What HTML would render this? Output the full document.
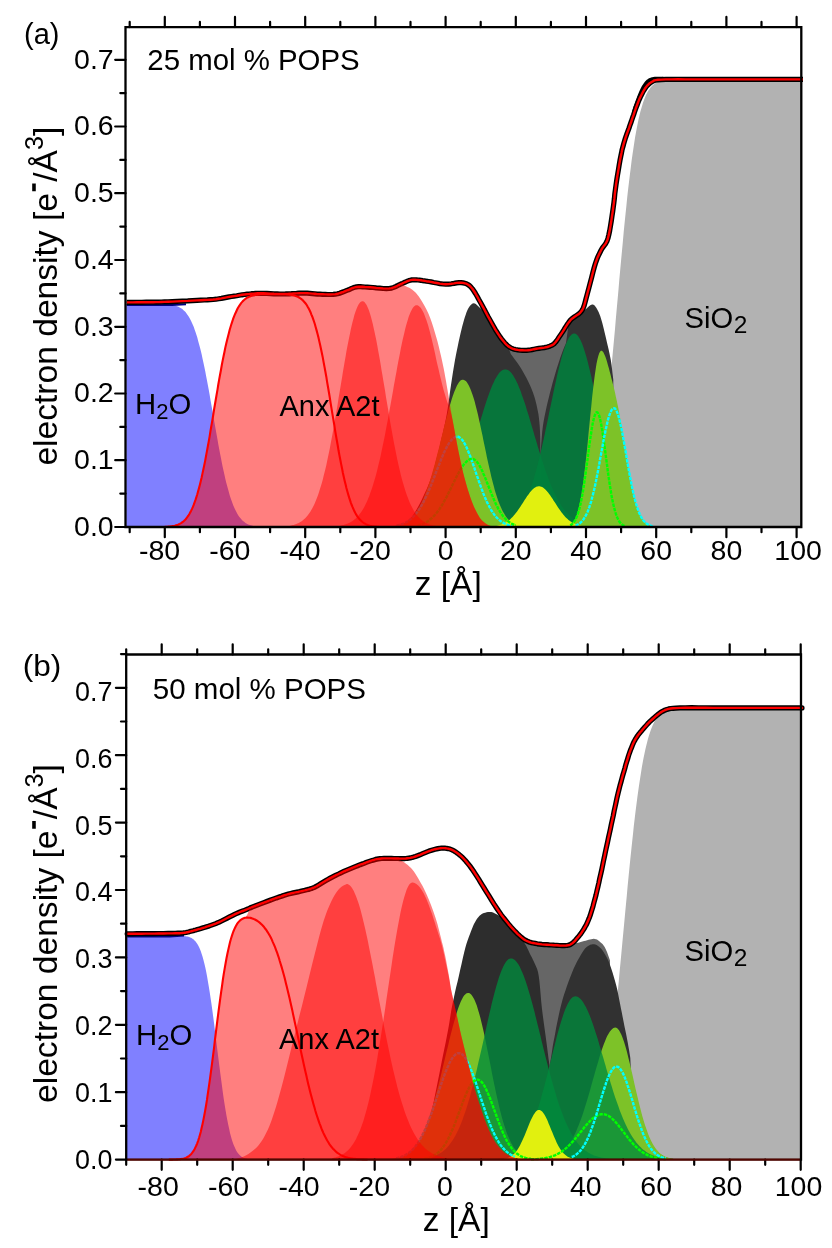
<!DOCTYPE html>
<html><head><meta charset="utf-8"><title>electron density</title>
<style>html,body{margin:0;padding:0;background:#fff}svg{display:block;will-change:transform}</style></head>
<body>
<svg width="832" height="1248" viewBox="0 0 832 1248">
<rect width="832" height="1248" fill="#fff"/>
<path d="M550.9 527.0 L550.9 527.0 L551.8 527.0 L552.7 527.0 L553.5 527.0 L554.4 527.0 L555.3 527.0 L556.2 527.0 L557.0 527.0 L557.9 527.0 L558.8 527.0 L559.7 526.9 L560.6 526.9 L561.4 526.9 L562.3 526.9 L563.2 526.9 L564.1 526.8 L564.9 526.8 L565.8 526.7 L566.7 526.7 L567.6 526.6 L568.5 526.6 L569.3 526.5 L570.2 526.4 L571.1 526.2 L572.0 526.1 L572.8 525.9 L573.7 525.7 L574.6 525.4 L575.5 525.2 L576.3 524.8 L577.2 524.5 L578.1 524.0 L579.0 523.6 L579.9 523.0 L580.7 522.3 L581.6 521.6 L582.5 520.8 L583.4 519.8 L584.2 518.8 L585.1 517.6 L586.0 516.3 L586.9 514.8 L587.8 513.1 L588.6 511.3 L589.5 509.3 L590.4 507.1 L591.3 504.6 L592.1 501.9 L593.0 499.0 L593.9 495.8 L594.8 492.3 L595.7 488.6 L596.5 484.6 L597.4 480.2 L598.3 475.5 L599.2 470.6 L600.0 465.2 L600.9 459.6 L601.8 453.6 L602.7 447.3 L603.5 440.7 L604.4 433.7 L605.3 426.4 L606.2 418.8 L607.1 410.9 L607.9 402.7 L608.8 394.2 L609.7 385.5 L610.6 376.5 L611.4 367.4 L612.3 358.0 L613.2 348.5 L614.1 338.8 L615.0 329.1 L615.8 319.2 L616.7 309.3 L617.6 299.4 L618.5 289.5 L619.3 279.7 L620.2 269.9 L621.1 260.2 L622.0 250.7 L622.9 241.3 L623.7 232.1 L624.6 223.1 L625.5 214.3 L626.4 205.8 L627.2 197.5 L628.1 189.5 L629.0 181.9 L629.9 174.5 L630.8 167.5 L631.6 160.8 L632.5 154.4 L633.4 148.4 L634.3 142.6 L635.1 137.3 L636.0 132.2 L636.9 127.5 L637.8 123.1 L638.6 119.0 L639.5 115.2 L640.4 111.6 L641.3 108.4 L642.2 105.4 L643.0 102.7 L643.9 100.2 L644.8 97.9 L645.7 95.8 L646.5 94.0 L647.4 92.3 L648.3 90.8 L649.2 89.4 L650.1 88.2 L650.9 87.1 L651.8 86.2 L652.7 85.3 L653.6 84.6 L654.4 83.9 L655.3 83.3 L656.2 82.8 L657.1 82.4 L658.0 82.0 L658.8 81.7 L659.7 81.4 L660.6 81.1 L661.5 80.9 L662.3 80.7 L663.2 80.6 L664.1 80.4 L665.0 80.3 L665.9 80.2 L666.7 80.2 L667.6 80.1 L668.5 80.0 L669.4 80.0 L670.2 80.0 L671.1 79.9 L672.0 79.9 L672.9 79.9 L673.8 79.9 L674.6 79.8 L675.5 79.8 L676.4 79.8 L677.3 79.8 L678.1 79.8 L679.0 79.8 L679.9 79.8 L680.8 79.8 L681.6 79.8 L682.5 79.8 L683.4 79.8 L684.3 79.8 L685.2 79.8 L686.0 79.8 L686.9 79.8 L687.8 79.8 L688.7 79.8 L689.5 79.8 L690.4 79.8 L691.3 79.8 L692.2 79.8 L693.1 79.8 L693.9 79.8 L694.8 79.8 L695.7 79.8 L696.6 79.8 L697.4 79.8 L698.3 79.8 L699.2 79.8 L700.1 79.8 L701.0 79.8 L701.8 79.8 L702.7 79.8 L703.6 79.8 L704.5 79.8 L705.3 79.8 L706.2 79.8 L707.1 79.8 L708.0 79.8 L708.9 79.8 L709.7 79.8 L710.6 79.8 L711.5 79.8 L712.4 79.8 L713.2 79.8 L714.1 79.8 L715.0 79.8 L715.9 79.8 L716.7 79.8 L717.6 79.8 L718.5 79.8 L719.4 79.8 L720.3 79.8 L721.1 79.8 L722.0 79.8 L722.9 79.8 L723.8 79.8 L724.6 79.8 L725.5 79.8 L726.4 79.8 L727.3 79.8 L728.2 79.8 L729.0 79.8 L729.9 79.8 L730.8 79.8 L731.7 79.8 L732.5 79.8 L733.4 79.8 L734.3 79.8 L735.2 79.8 L736.1 79.8 L736.9 79.8 L737.8 79.8 L738.7 79.8 L739.6 79.8 L740.4 79.8 L741.3 79.8 L742.2 79.8 L743.1 79.8 L744.0 79.8 L744.8 79.8 L745.7 79.8 L746.6 79.8 L747.5 79.8 L748.3 79.8 L749.2 79.8 L750.1 79.8 L751.0 79.8 L751.8 79.8 L752.7 79.8 L753.6 79.8 L754.5 79.8 L755.4 79.8 L756.2 79.8 L757.1 79.8 L758.0 79.8 L758.9 79.8 L759.7 79.8 L760.6 79.8 L761.5 79.8 L762.4 79.8 L763.3 79.8 L764.1 79.8 L765.0 79.8 L765.9 79.8 L766.8 79.8 L767.6 79.8 L768.5 79.8 L769.4 79.8 L770.3 79.8 L771.2 79.8 L772.0 79.8 L772.9 79.8 L773.8 79.8 L774.7 79.8 L775.5 79.8 L776.4 79.8 L777.3 79.8 L778.2 79.8 L779.0 79.8 L779.9 79.8 L780.8 79.8 L781.7 79.8 L782.6 79.8 L783.4 79.8 L784.3 79.8 L785.2 79.8 L786.1 79.8 L786.9 79.8 L787.8 79.8 L788.7 79.8 L789.6 79.8 L790.5 79.8 L791.3 79.8 L792.2 79.8 L793.1 79.8 L794.0 79.8 L794.8 79.8 L795.7 79.8 L796.6 79.8 L797.5 79.8 L798.4 79.8 L799.2 79.8 L800.1 79.8 L801.0 79.8 L801.0 527.0Z" fill="#b2b2b2" />
<path d="M126.2 527.0 L126.2 304.1 L127.1 304.1 L127.9 304.1 L128.8 304.1 L129.7 304.1 L130.6 304.1 L131.5 304.1 L132.3 304.1 L133.2 304.1 L134.1 304.1 L135.0 304.1 L135.8 304.1 L136.7 304.1 L137.6 304.1 L138.5 304.1 L139.4 304.1 L140.2 304.1 L141.1 304.1 L142.0 304.1 L142.9 304.1 L143.7 304.1 L144.6 304.1 L145.5 304.1 L146.4 304.1 L147.3 304.1 L148.1 304.1 L149.0 304.1 L149.9 304.1 L150.8 304.1 L151.6 304.1 L152.5 304.1 L153.4 304.1 L154.3 304.1 L155.1 304.1 L156.0 304.1 L156.9 304.1 L157.8 304.1 L158.7 304.1 L159.5 304.1 L160.4 304.1 L161.3 304.1 L162.2 304.2 L163.0 304.2 L163.9 304.2 L164.8 304.2 L165.7 304.3 L166.6 304.3 L167.4 304.4 L168.3 304.5 L169.2 304.5 L170.1 304.6 L170.9 304.7 L171.8 304.9 L172.7 305.0 L173.6 305.2 L174.5 305.4 L175.3 305.6 L176.2 305.9 L177.1 306.2 L178.0 306.5 L178.8 306.9 L179.7 307.4 L180.6 307.9 L181.5 308.5 L182.4 309.1 L183.2 309.9 L184.1 310.7 L185.0 311.6 L185.9 312.6 L186.7 313.7 L187.6 314.9 L188.5 316.2 L189.4 317.7 L190.2 319.3 L191.1 321.0 L192.0 322.9 L192.9 324.9 L193.8 327.1 L194.6 329.5 L195.5 332.0 L196.4 334.7 L197.3 337.6 L198.1 340.7 L199.0 343.9 L199.9 347.3 L200.8 350.8 L201.7 354.6 L202.5 358.5 L203.4 362.5 L204.3 366.7 L205.2 371.1 L206.0 375.5 L206.9 380.1 L207.8 384.8 L208.7 389.6 L209.6 394.5 L210.4 399.4 L211.3 404.4 L212.2 409.5 L213.1 414.5 L213.9 419.6 L214.8 424.6 L215.7 429.6 L216.6 434.6 L217.5 439.5 L218.3 444.3 L219.2 449.1 L220.1 453.7 L221.0 458.2 L221.8 462.6 L222.7 466.9 L223.6 471.0 L224.5 474.9 L225.3 478.7 L226.2 482.4 L227.1 485.8 L228.0 489.1 L228.9 492.2 L229.7 495.2 L230.6 498.0 L231.5 500.6 L232.4 503.0 L233.2 505.2 L234.1 507.3 L235.0 509.3 L235.9 511.1 L236.8 512.8 L237.6 514.3 L238.5 515.7 L239.4 516.9 L240.3 518.1 L241.1 519.1 L242.0 520.0 L242.9 520.9 L243.8 521.6 L244.7 522.3 L245.5 522.9 L246.4 523.5 L247.3 523.9 L248.2 524.4 L249.0 524.7 L249.9 525.0 L250.8 525.3 L251.7 525.6 L252.6 525.8 L253.4 526.0 L254.3 526.1 L255.2 526.3 L256.1 526.4 L256.9 526.5 L257.8 526.6 L258.7 526.6 L259.6 526.7 L260.4 526.8 L261.3 526.8 L262.2 526.8 L263.1 526.9 L264.0 526.9 L264.8 526.9 L265.7 526.9 L266.6 526.9 L267.5 527.0 L268.3 527.0 L269.2 527.0 L270.1 527.0 L271.0 527.0 L271.9 527.0 L272.7 527.0 L273.6 527.0 L274.5 527.0 L275.4 527.0 L276.2 527.0 L277.1 527.0 L278.0 527.0 L278.9 527.0 L279.8 527.0 L280.6 527.0 L281.5 527.0 L282.4 527.0 L283.3 527.0 L284.1 527.0 L285.0 527.0 L285.9 527.0 L286.8 527.0 L287.7 527.0 L287.7 527.0Z" fill="#8080ff" />
<path d="M480.4 527.0 L480.4 302.3 L482.2 305.6 L484.2 309.2 L486.1 312.9 L488.1 316.7 L490.1 320.2 L491.9 323.5 L493.6 326.5 L495.2 329.3 L496.8 331.9 L498.4 334.4 L499.9 336.7 L501.5 338.8 L503.1 340.8 L504.6 342.6 L506.1 344.3 L507.7 345.7 L509.4 347.0 L511.2 348.1 L513.2 348.9 L515.5 349.5 L517.8 349.9 L520.1 350.2 L522.4 350.3 L524.6 350.4 L526.6 350.4 L528.4 350.2 L530.2 350.0 L532.1 349.6 L534.0 349.2 L536.2 348.8 L538.7 348.4 L541.4 348.0 L544.3 347.6 L547.2 347.0 L549.8 346.2 L552.1 345.2 L554.0 343.9 L555.5 342.3 L556.8 340.6 L558.1 338.7 L559.4 336.7 L560.8 334.6 L562.3 332.4 L563.9 329.9 L565.4 327.3 L567.0 324.8 L568.7 322.4 L570.4 320.2 L572.3 318.4 L574.3 317.0 L576.4 315.6 L578.4 314.3 L580.3 312.6 L581.9 310.6 L583.2 308.2 L583.2 527.0Z" fill="#666666" />
<path d="M396.0 527.0 L397.4 526.7 L399.3 526.5 L401.6 526.0 L403.9 525.3 L406.0 524.0 L407.9 522.1 L409.9 519.8 L411.8 517.1 L413.6 514.3 L415.4 511.5 L417.0 508.8 L418.5 506.1 L420.0 503.2 L421.5 500.2 L423.0 497.0 L424.6 493.5 L426.4 489.7 L428.1 485.7 L429.7 481.8 L431.1 478.1 L432.3 474.6 L433.3 471.2 L434.2 467.9 L435.1 464.5 L436.0 461.0 L436.9 457.5 L437.8 454.0 L438.7 450.4 L439.7 446.5 L440.7 442.1 L441.8 437.2 L443.1 431.7 L444.4 426.0 L445.6 420.2 L446.7 414.4 L447.7 408.6 L448.6 402.6 L449.4 396.5 L450.2 390.6 L451.0 385.0 L451.8 379.7 L452.6 374.5 L453.4 369.6 L454.2 364.7 L455.0 360.0 L455.9 355.3 L456.8 350.8 L457.7 346.4 L458.6 342.1 L459.5 338.0 L460.4 334.0 L461.3 330.2 L462.2 326.6 L463.1 323.2 L464.0 320.0 L464.9 317.1 L465.8 314.4 L466.6 312.0 L467.6 309.8 L468.5 308.0 L469.5 306.5 L470.5 305.2 L471.6 304.2 L472.6 303.6 L473.7 303.3 L474.8 303.5 L475.8 304.1 L476.9 305.0 L478.0 306.0 L479.0 307.0 L480.1 308.1 L481.3 309.5 L482.4 310.9 L483.3 312.1 L484.0 313.0 L486.1 312.9 L488.1 316.7 L490.1 320.2 L491.9 323.5 L493.6 326.5 L495.2 329.3 L496.8 331.9 L498.4 334.4 L499.9 336.7 L501.5 338.8 L503.1 340.8 L504.6 342.6 L506.1 344.3 L507.7 345.7 L510.8 354.0 L512.3 356.1 L514.5 359.1 L517.1 362.6 L519.7 366.3 L522.0 370.0 L524.1 373.7 L526.2 377.6 L528.2 381.5 L530.1 385.5 L531.7 389.3 L533.1 392.9 L534.3 396.4 L535.3 399.9 L536.2 403.4 L537.0 407.0 L537.7 410.6 L538.4 414.1 L538.9 417.7 L539.3 421.6 L539.7 426.0 L540.0 431.4 L540.2 437.7 L540.3 444.0 L540.4 449.5 L540.5 453.4 L541.0 527.0Z" fill="#333333" />
<path d="M540.5 453.4 L540.8 449.6 L541.2 444.2 L541.7 438.0 L542.2 431.7 L542.9 426.0 L543.7 421.0 L544.6 416.2 L545.6 411.4 L546.6 406.7 L547.7 402.0 L548.9 397.2 L550.1 392.3 L551.4 387.4 L552.7 382.6 L554.0 378.0 L555.3 373.5 L556.6 369.0 L558.0 364.8 L559.3 360.7 L560.5 357.0 L561.8 353.5 L563.0 350.2 L564.2 347.3 L565.3 344.8 L566.0 343.0 L568.7 323.4 L570.4 321.2 L572.3 319.4 L574.3 318.0 L576.4 316.6 L578.4 315.3 L580.3 313.6 L581.9 311.6 L586.0 309.0 L586.6 308.5 L587.3 307.7 L588.2 306.9 L589.2 306.1 L590.0 305.5 L590.7 305.1 L591.4 304.8 L592.1 304.6 L592.8 304.6 L593.5 304.8 L594.2 305.2 L594.9 305.8 L595.5 306.7 L596.3 307.7 L597.0 309.0 L597.8 310.4 L598.6 312.0 L599.4 313.9 L600.3 316.2 L601.2 319.2 L602.3 323.1 L603.5 327.8 L604.7 332.8 L605.9 337.8 L606.9 342.3 L607.8 346.1 L608.7 349.7 L609.4 353.0 L610.1 356.4 L610.8 360.0 L611.4 364.2 L612.0 368.8 L612.5 373.3 L613.0 377.2 L613.3 380.0 L613.3 388.8 L614.2 392.5 L615.0 396.4 L615.9 400.4 L616.8 404.7 L617.7 409.1 L618.5 413.7 L619.4 418.5 L620.3 423.5 L621.2 428.6 L622.1 433.9 L622.9 439.2 L623.8 444.6 L624.7 450.0 L625.6 455.3 L626.4 460.6 L627.3 465.8 L628.2 470.9 L629.1 475.8 L630.0 480.5 L630.8 485.0 L631.7 489.2 L632.6 493.2 L633.5 496.9 L634.3 500.3 L635.2 503.5 L636.1 506.4 L637.0 509.0 L637.9 511.4 L638.7 513.5 L639.6 515.4 L640.5 517.1 L641.4 518.6 L642.2 519.9 L643.1 521.0 L644.0 522.0 L644.9 522.8 L645.7 523.5 L646.6 524.1 L647.5 524.6 L648.4 525.1 L649.3 525.4 L650.1 525.7 L651.0 526.0 L651.9 526.2 L652.8 526.4 L653.6 526.5 L654.5 526.6 L655.4 526.7 L652.0 527.0 L540.0 527.0Z" fill="#333333" />
<path d="M417.5 527.0 L417.5 525.8 L418.4 525.7 L419.3 525.6 L420.2 525.4 L421.0 525.2 L421.9 525.1 L422.8 524.9 L423.7 524.7 L424.5 524.5 L425.4 524.2 L426.3 524.0 L427.2 523.7 L428.1 523.4 L428.9 523.1 L429.8 522.7 L430.7 522.4 L431.6 522.0 L432.4 521.5 L433.3 521.1 L434.2 520.6 L435.1 520.1 L435.9 519.5 L436.8 518.9 L437.7 518.3 L438.6 517.6 L439.5 516.9 L440.3 516.1 L441.2 515.3 L442.1 514.5 L443.0 513.6 L443.8 512.6 L444.7 511.6 L445.6 510.5 L446.5 509.4 L447.4 508.2 L448.2 507.0 L449.1 505.7 L450.0 504.3 L450.9 502.9 L451.7 501.4 L452.6 499.8 L453.5 498.2 L454.4 496.5 L455.3 494.7 L456.1 492.9 L457.0 491.0 L457.9 489.1 L458.8 487.0 L459.6 484.9 L460.5 482.7 L461.4 480.5 L462.3 478.2 L463.2 475.8 L464.0 473.4 L464.9 470.9 L465.8 468.4 L466.7 465.8 L467.5 463.1 L468.4 460.4 L469.3 457.6 L470.2 454.8 L471.0 452.0 L471.9 449.1 L472.8 446.2 L473.7 443.3 L474.6 440.3 L475.4 437.4 L476.3 434.4 L477.2 431.4 L478.1 428.4 L478.9 425.4 L479.8 422.5 L480.7 419.5 L481.6 416.6 L482.5 413.7 L483.3 410.9 L484.2 408.0 L485.1 405.3 L486.0 402.6 L486.8 399.9 L487.7 397.4 L488.6 394.9 L489.5 392.5 L490.4 390.1 L491.2 387.9 L492.1 385.8 L493.0 383.8 L493.9 381.9 L494.7 380.1 L495.6 378.4 L496.5 376.9 L497.4 375.5 L498.2 374.3 L499.1 373.1 L500.0 372.1 L500.9 371.3 L501.8 370.6 L502.6 370.1 L503.5 369.7 L504.4 369.5 L505.3 369.4 L506.1 369.5 L507.0 369.7 L507.9 370.1 L508.8 370.6 L509.7 371.3 L510.5 372.1 L511.4 373.1 L512.3 374.3 L513.2 375.5 L514.0 376.9 L514.9 378.4 L515.8 380.1 L516.7 381.9 L517.6 383.8 L518.4 385.8 L519.3 387.9 L520.2 390.1 L521.1 392.5 L521.9 394.9 L522.8 397.4 L523.7 399.9 L524.6 402.6 L525.5 405.3 L526.3 408.0 L527.2 410.9 L528.1 413.7 L529.0 416.6 L529.8 419.5 L530.7 422.5 L531.6 425.4 L532.5 428.4 L533.4 431.4 L534.2 434.4 L535.1 437.4 L536.0 440.3 L536.9 443.3 L537.7 446.2 L538.6 449.1 L539.5 452.0 L540.4 454.8 L541.2 457.6 L542.1 460.4 L543.0 463.1 L543.9 465.8 L544.8 468.4 L545.6 470.9 L546.5 473.4 L547.4 475.8 L548.3 478.2 L549.1 480.5 L550.0 482.7 L550.9 484.9 L551.8 487.0 L552.7 489.1 L553.5 491.0 L554.4 492.9 L555.3 494.7 L556.2 496.5 L557.0 498.2 L557.9 499.8 L558.8 501.4 L559.7 502.9 L560.6 504.3 L561.4 505.7 L562.3 507.0 L563.2 508.2 L564.1 509.4 L564.9 510.5 L565.8 511.6 L566.7 512.6 L567.6 513.6 L568.5 514.5 L569.3 515.3 L570.2 516.1 L571.1 516.9 L572.0 517.6 L572.8 518.3 L573.7 518.9 L574.6 519.5 L575.5 520.1 L576.3 520.6 L577.2 521.1 L578.1 521.5 L579.0 522.0 L579.9 522.4 L580.7 522.7 L581.6 523.1 L582.5 523.4 L583.4 523.7 L584.2 524.0 L585.1 524.2 L586.0 524.5 L586.9 524.7 L587.8 524.9 L588.6 525.1 L589.5 525.2 L590.4 525.4 L591.3 525.6 L592.1 525.7 L593.0 525.8 L593.9 525.9 L594.8 526.0 L595.7 526.1 L596.5 526.2 L597.4 526.3 L598.3 526.3 L599.2 526.4 L600.0 526.5 L600.9 526.5 L601.8 526.6 L602.7 526.6 L603.5 526.7 L603.5 527.0Z" fill="rgba(0,128,60,0.86)" />
<path d="M494.7 527.0 L494.7 526.1 L495.6 526.0 L496.5 525.9 L497.4 525.7 L498.2 525.6 L499.1 525.4 L500.0 525.2 L500.9 525.0 L501.8 524.8 L502.6 524.5 L503.5 524.2 L504.4 523.9 L505.3 523.6 L506.1 523.2 L507.0 522.8 L507.9 522.4 L508.8 521.9 L509.7 521.4 L510.5 520.8 L511.4 520.2 L512.3 519.5 L513.2 518.8 L514.0 518.0 L514.9 517.2 L515.8 516.3 L516.7 515.3 L517.6 514.3 L518.4 513.2 L519.3 512.0 L520.2 510.7 L521.1 509.3 L521.9 507.9 L522.8 506.4 L523.7 504.7 L524.6 503.0 L525.5 501.2 L526.3 499.3 L527.2 497.2 L528.1 495.1 L529.0 492.8 L529.8 490.5 L530.7 488.0 L531.6 485.4 L532.5 482.7 L533.4 479.9 L534.2 477.0 L535.1 473.9 L536.0 470.8 L536.9 467.5 L537.7 464.2 L538.6 460.7 L539.5 457.1 L540.4 453.5 L541.2 449.7 L542.1 445.9 L543.0 442.0 L543.9 438.0 L544.8 433.9 L545.6 429.8 L546.5 425.7 L547.4 421.5 L548.3 417.2 L549.1 413.0 L550.0 408.7 L550.9 404.5 L551.8 400.3 L552.7 396.0 L553.5 391.9 L554.4 387.7 L555.3 383.7 L556.2 379.7 L557.0 375.8 L557.9 372.0 L558.8 368.3 L559.7 364.8 L560.6 361.3 L561.4 358.1 L562.3 354.9 L563.2 352.0 L564.1 349.3 L564.9 346.7 L565.8 344.3 L566.7 342.2 L567.6 340.3 L568.5 338.6 L569.3 337.1 L570.2 335.9 L571.1 334.9 L572.0 334.2 L572.8 333.7 L573.7 333.4 L574.6 333.5 L575.5 333.7 L576.3 334.3 L577.2 335.1 L578.1 336.1 L579.0 337.4 L579.9 338.9 L580.7 340.6 L581.6 342.6 L582.5 344.8 L583.4 347.2 L584.2 349.8 L585.1 352.6 L586.0 355.6 L586.9 358.7 L587.8 362.0 L588.6 365.5 L589.5 369.0 L590.4 372.7 L591.3 376.6 L592.1 380.5 L593.0 384.5 L593.9 388.6 L594.8 392.7 L595.7 396.9 L596.5 401.1 L597.4 405.3 L598.3 409.6 L599.2 413.8 L600.0 418.1 L600.9 422.3 L601.8 426.5 L602.7 430.6 L603.5 434.7 L604.4 438.8 L605.3 442.7 L606.2 446.6 L607.1 450.5 L607.9 454.2 L608.8 457.8 L609.7 461.4 L610.6 464.8 L611.4 468.2 L612.3 471.4 L613.2 474.5 L614.1 477.6 L615.0 480.5 L615.8 483.3 L616.7 485.9 L617.6 488.5 L618.5 490.9 L619.3 493.3 L620.2 495.5 L621.1 497.6 L622.0 499.6 L622.9 501.6 L623.7 503.4 L624.6 505.1 L625.5 506.7 L626.4 508.2 L627.2 509.6 L628.1 511.0 L629.0 512.2 L629.9 513.4 L630.8 514.5 L631.6 515.5 L632.5 516.5 L633.4 517.4 L634.3 518.2 L635.1 518.9 L636.0 519.7 L636.9 520.3 L637.8 520.9 L638.6 521.5 L639.5 522.0 L640.4 522.5 L641.3 522.9 L642.2 523.3 L643.0 523.6 L643.9 524.0 L644.8 524.3 L645.7 524.6 L646.5 524.8 L647.4 525.0 L648.3 525.2 L649.2 525.4 L650.1 525.6 L650.9 525.7 L651.8 525.9 L652.7 526.0 L653.6 526.1 L654.4 526.2 L655.3 526.3 L656.2 526.4 L656.2 527.0Z" fill="rgba(0,128,60,0.86)" />
<path d="M389.4 527.0 L389.4 526.5 L390.3 526.4 L391.2 526.3 L392.1 526.2 L393.0 526.1 L393.8 526.0 L394.7 525.9 L395.6 525.7 L396.5 525.5 L397.3 525.3 L398.2 525.1 L399.1 524.9 L400.0 524.6 L400.8 524.4 L401.7 524.0 L402.6 523.7 L403.5 523.3 L404.4 522.9 L405.2 522.4 L406.1 521.9 L407.0 521.4 L407.9 520.8 L408.7 520.1 L409.6 519.4 L410.5 518.7 L411.4 517.8 L412.3 516.9 L413.1 516.0 L414.0 515.0 L414.9 513.8 L415.8 512.7 L416.6 511.4 L417.5 510.0 L418.4 508.6 L419.3 507.1 L420.2 505.4 L421.0 503.7 L421.9 501.9 L422.8 500.0 L423.7 497.9 L424.5 495.8 L425.4 493.6 L426.3 491.3 L427.2 488.8 L428.1 486.3 L428.9 483.7 L429.8 480.9 L430.7 478.1 L431.6 475.2 L432.4 472.2 L433.3 469.1 L434.2 466.0 L435.1 462.7 L435.9 459.4 L436.8 456.1 L437.7 452.6 L438.6 449.2 L439.5 445.7 L440.3 442.2 L441.2 438.6 L442.1 435.1 L443.0 431.6 L443.8 428.0 L444.7 424.6 L445.6 421.1 L446.5 417.7 L447.4 414.4 L448.2 411.1 L449.1 408.0 L450.0 404.9 L450.9 402.0 L451.7 399.2 L452.6 396.5 L453.5 393.9 L454.4 391.6 L455.3 389.4 L456.1 387.4 L457.0 385.5 L457.9 383.9 L458.8 382.6 L459.6 381.5 L460.5 380.6 L461.4 380.0 L462.3 379.7 L463.2 379.7 L464.0 379.9 L464.9 380.4 L465.8 381.1 L466.7 382.1 L467.5 383.3 L468.4 384.8 L469.3 386.5 L470.2 388.5 L471.0 390.6 L471.9 392.9 L472.8 395.5 L473.7 398.3 L474.6 401.3 L475.4 404.5 L476.3 407.9 L477.2 411.5 L478.1 415.3 L478.9 419.1 L479.8 423.1 L480.7 427.2 L481.6 431.4 L482.5 435.6 L483.3 439.8 L484.2 444.1 L485.1 448.3 L486.0 452.5 L486.8 456.7 L487.7 460.8 L488.6 464.8 L489.5 468.7 L490.4 472.5 L491.2 476.2 L492.1 479.8 L493.0 483.2 L493.9 486.5 L494.7 489.7 L495.6 492.7 L496.5 495.5 L497.4 498.2 L498.2 500.7 L499.1 503.1 L500.0 505.3 L500.9 507.3 L501.8 509.2 L502.6 511.0 L503.5 512.6 L504.4 514.1 L505.3 515.5 L506.1 516.8 L507.0 517.9 L507.9 518.9 L508.8 519.9 L509.7 520.7 L510.5 521.5 L511.4 522.2 L512.3 522.8 L513.2 523.3 L514.0 523.8 L514.9 524.2 L515.8 524.6 L516.7 524.9 L517.6 525.2 L518.4 525.5 L519.3 525.7 L520.2 525.9 L521.1 526.1 L521.9 526.2 L522.8 526.3 L523.7 526.4 L524.6 526.5 L525.5 526.6 L526.3 526.7 L527.2 526.7 L528.1 526.8 L529.0 526.8 L529.8 526.8 L529.8 527.0Z" fill="#7dc228" />
<path d="M561.4 527.0 L561.4 526.9 L562.3 526.9 L563.2 526.8 L564.1 526.7 L564.9 526.7 L565.8 526.5 L566.7 526.4 L567.6 526.1 L568.5 525.8 L569.3 525.5 L570.2 525.0 L571.1 524.4 L572.0 523.6 L572.8 522.6 L573.7 521.4 L574.6 520.0 L575.5 518.2 L576.3 516.1 L577.2 513.5 L578.1 510.5 L579.0 507.0 L579.9 503.0 L580.7 498.4 L581.6 493.3 L582.5 487.5 L583.4 481.2 L584.2 474.2 L585.1 466.7 L586.0 458.8 L586.9 450.4 L587.8 441.7 L588.6 432.8 L589.5 423.8 L590.4 414.8 L591.3 406.0 L592.1 397.5 L593.0 389.4 L593.9 381.9 L594.8 375.1 L595.7 369.0 L596.5 363.7 L597.4 359.4 L598.3 355.9 L599.2 353.3 L600.0 351.7 L600.9 350.8 L601.8 350.8 L602.7 351.4 L603.5 352.6 L604.4 354.4 L605.3 356.6 L606.2 359.1 L607.1 362.0 L607.9 365.0 L608.8 368.1 L609.7 371.4 L610.6 374.8 L611.4 378.2 L612.3 381.6 L613.2 385.2 L614.1 388.8 L615.0 392.5 L615.8 396.4 L616.7 400.4 L617.6 404.7 L618.5 409.1 L619.3 413.7 L620.2 418.5 L621.1 423.5 L622.0 428.6 L622.9 433.9 L623.7 439.2 L624.6 444.6 L625.5 450.0 L626.4 455.3 L627.2 460.6 L628.1 465.8 L629.0 470.9 L629.9 475.8 L630.8 480.5 L631.6 485.0 L632.5 489.2 L633.4 493.2 L634.3 496.9 L635.1 500.3 L636.0 503.5 L636.9 506.4 L637.8 509.0 L638.6 511.4 L639.5 513.5 L640.4 515.4 L641.3 517.1 L642.2 518.6 L643.0 519.9 L643.9 521.0 L644.8 522.0 L645.7 522.8 L646.5 523.5 L647.4 524.1 L648.3 524.6 L649.2 525.1 L650.1 525.4 L650.9 525.7 L651.8 526.0 L652.7 526.2 L653.6 526.4 L654.4 526.5 L655.3 526.6 L656.2 526.7 L657.1 526.8 L658.0 526.8 L658.8 526.9 L659.7 526.9 L660.6 526.9 L661.5 526.9 L662.3 526.9 L663.2 527.0 L663.2 527.0Z" fill="#7dc228" />
<path d="M487.7 527.0 L487.7 526.8 L488.6 526.7 L489.5 526.7 L490.4 526.6 L491.2 526.6 L492.1 526.5 L493.0 526.4 L493.9 526.3 L494.7 526.2 L495.6 526.1 L496.5 525.9 L497.4 525.7 L498.2 525.5 L499.1 525.3 L500.0 525.1 L500.9 524.8 L501.8 524.5 L502.6 524.1 L503.5 523.7 L504.4 523.3 L505.3 522.8 L506.1 522.3 L507.0 521.7 L507.9 521.1 L508.8 520.4 L509.7 519.7 L510.5 518.9 L511.4 518.1 L512.3 517.2 L513.2 516.3 L514.0 515.3 L514.9 514.2 L515.8 513.1 L516.7 512.0 L517.6 510.8 L518.4 509.5 L519.3 508.2 L520.2 506.9 L521.1 505.6 L521.9 504.2 L522.8 502.9 L523.7 501.5 L524.6 500.1 L525.5 498.8 L526.3 497.4 L527.2 496.1 L528.1 494.9 L529.0 493.7 L529.8 492.5 L530.7 491.5 L531.6 490.5 L532.5 489.6 L533.4 488.8 L534.2 488.1 L535.1 487.5 L536.0 487.0 L536.9 486.6 L537.7 486.4 L538.6 486.3 L539.5 486.3 L540.4 486.4 L541.2 486.7 L542.1 487.1 L543.0 487.6 L543.9 488.2 L544.8 488.9 L545.6 489.8 L546.5 490.7 L547.4 491.7 L548.3 492.8 L549.1 493.9 L550.0 495.1 L550.9 496.4 L551.8 497.7 L552.7 499.0 L553.5 500.4 L554.4 501.8 L555.3 503.1 L556.2 504.5 L557.0 505.8 L557.9 507.2 L558.8 508.5 L559.7 509.8 L560.6 511.0 L561.4 512.2 L562.3 513.3 L563.2 514.4 L564.1 515.5 L564.9 516.5 L565.8 517.4 L566.7 518.3 L567.6 519.1 L568.5 519.9 L569.3 520.6 L570.2 521.2 L571.1 521.8 L572.0 522.4 L572.8 522.9 L573.7 523.4 L574.6 523.8 L575.5 524.2 L576.3 524.5 L577.2 524.8 L578.1 525.1 L579.0 525.4 L579.9 525.6 L580.7 525.8 L581.6 525.9 L582.5 526.1 L583.4 526.2 L584.2 526.3 L585.1 526.4 L586.0 526.5 L586.9 526.6 L587.8 526.7 L588.6 526.7 L589.5 526.8 L590.4 526.8 L591.3 526.8 L592.1 526.9 L593.0 526.9 L593.0 527.0Z" fill="#e1f00f" />
<path d="M396.5 525.6 L397.3 525.4 L398.2 525.2 L399.1 525.0 L400.0 524.7 L400.8 524.5 L401.7 524.2 L402.6 523.9 L403.5 523.5 L404.4 523.1 L405.2 522.7 L406.1 522.2 L407.0 521.7 L407.9 521.2 L408.7 520.6 L409.6 519.9 L410.5 519.3 L411.4 518.5 L412.3 517.7 L413.1 516.9 L414.0 516.0 L414.9 515.0 L415.8 513.9 L416.6 512.8 L417.5 511.7 L418.4 510.4 L419.3 509.1 L420.2 507.8 L421.0 506.3 L421.9 504.8 L422.8 503.2 L423.7 501.6 L424.5 499.8 L425.4 498.0 L426.3 496.2 L427.2 494.3 L428.1 492.3 L428.9 490.3 L429.8 488.2 L430.7 486.1 L431.6 483.9 L432.4 481.7 L433.3 479.5 L434.2 477.2 L435.1 475.0 L435.9 472.7 L436.8 470.4 L437.7 468.1 L438.6 465.9 L439.5 463.6 L440.3 461.4 L441.2 459.3 L442.1 457.1 L443.0 455.1 L443.8 453.1 L444.7 451.2 L445.6 449.4 L446.5 447.6 L447.4 446.0 L448.2 444.5 L449.1 443.1 L450.0 441.8 L450.9 440.7 L451.7 439.7 L452.6 438.8 L453.5 438.1 L454.4 437.5 L455.3 437.1 L456.1 436.8 L457.0 436.7 L457.9 436.8 L458.8 437.0 L459.6 437.5 L460.5 438.1 L461.4 439.0 L462.3 440.0 L463.2 441.2 L464.0 442.6 L464.9 444.1 L465.8 445.8 L466.7 447.7 L467.5 449.6 L468.4 451.7 L469.3 453.9 L470.2 456.2 L471.0 458.6 L471.9 461.0 L472.8 463.5 L473.7 466.0 L474.6 468.6 L475.4 471.2 L476.3 473.8 L477.2 476.3 L478.1 478.9 L478.9 481.4 L479.8 483.9 L480.7 486.4 L481.6 488.8 L482.5 491.1 L483.3 493.4 L484.2 495.6 L485.1 497.7 L486.0 499.7 L486.8 501.7 L487.7 503.5 L488.6 505.3 L489.5 507.0 L490.4 508.6 L491.2 510.1 L492.1 511.5 L493.0 512.8 L493.9 514.1 L494.7 515.2 L495.6 516.3 L496.5 517.3 L497.4 518.2 L498.2 519.1 L499.1 519.9 L500.0 520.6 L500.9 521.3 L501.8 521.9 L502.6 522.4 L503.5 522.9 L504.4 523.4 L505.3 523.8 L506.1 524.2 L507.0 524.5 L507.9 524.8 L508.8 525.1 L509.7 525.3 L510.5 525.5 L511.4 525.7 L512.3 525.9" fill="none" stroke="#00ffff" stroke-width="2.4" stroke-dasharray="3.5 1.0"/>
<path d="M417.5 525.4 L418.4 525.2 L419.3 524.9 L420.2 524.7 L421.0 524.4 L421.9 524.1 L422.8 523.8 L423.7 523.4 L424.5 523.0 L425.4 522.5 L426.3 522.1 L427.2 521.6 L428.1 521.0 L428.9 520.4 L429.8 519.7 L430.7 519.0 L431.6 518.3 L432.4 517.5 L433.3 516.6 L434.2 515.7 L435.1 514.8 L435.9 513.7 L436.8 512.7 L437.7 511.5 L438.6 510.3 L439.5 509.1 L440.3 507.7 L441.2 506.4 L442.1 505.0 L443.0 503.5 L443.8 501.9 L444.7 500.4 L445.6 498.7 L446.5 497.1 L447.4 495.4 L448.2 493.6 L449.1 491.9 L450.0 490.1 L450.9 488.3 L451.7 486.5 L452.6 484.7 L453.5 482.9 L454.4 481.1 L455.3 479.3 L456.1 477.6 L457.0 475.8 L457.9 474.2 L458.8 472.5 L459.6 471.0 L460.5 469.5 L461.4 468.1 L462.3 466.7 L463.2 465.4 L464.0 464.3 L464.9 463.2 L465.8 462.3 L466.7 461.4 L467.5 460.7 L468.4 460.1 L469.3 459.6 L470.2 459.2 L471.0 459.0 L471.9 458.9 L472.8 459.0 L473.7 459.2 L474.6 459.7 L475.4 460.3 L476.3 461.2 L477.2 462.2 L478.1 463.4 L478.9 464.7 L479.8 466.2 L480.7 467.9 L481.6 469.6 L482.5 471.5 L483.3 473.5 L484.2 475.5 L485.1 477.6 L486.0 479.8 L486.8 482.0 L487.7 484.3 L488.6 486.5 L489.5 488.8 L490.4 491.0 L491.2 493.2 L492.1 495.3 L493.0 497.4 L493.9 499.5 L494.7 501.4 L495.6 503.4 L496.5 505.2 L497.4 506.9 L498.2 508.6 L499.1 510.2 L500.0 511.7 L500.9 513.0 L501.8 514.4 L502.6 515.6 L503.5 516.7 L504.4 517.7 L505.3 518.7 L506.1 519.6 L507.0 520.4 L507.9 521.1 L508.8 521.8 L509.7 522.4 L510.5 523.0 L511.4 523.5 L512.3 523.9 L513.2 524.3 L514.0 524.7 L514.9 525.0 L515.8 525.2" fill="none" stroke="#00ff00" stroke-width="2.4" stroke-dasharray="3.5 1.0"/>
<path d="M570.2 525.4 L571.1 524.9 L572.0 524.2 L572.8 523.4 L573.7 522.4 L574.6 521.2 L575.5 519.7 L576.3 517.9 L577.2 515.7 L578.1 513.2 L579.0 510.2 L579.9 506.8 L580.7 503.0 L581.6 498.7 L582.5 493.9 L583.4 488.6 L584.2 483.0 L585.1 476.9 L586.0 470.6 L586.9 464.0 L587.8 457.4 L588.6 450.7 L589.5 444.1 L590.4 437.9 L591.3 432.0 L592.1 426.7 L593.0 422.0 L593.9 418.2 L594.8 415.2 L595.7 413.2 L596.5 412.3 L597.4 412.4 L598.3 413.5 L599.2 415.7 L600.0 418.9 L600.9 422.9 L601.8 427.7 L602.7 433.1 L603.5 439.1 L604.4 445.4 L605.3 452.0 L606.2 458.7 L607.1 465.4 L607.9 471.9 L608.8 478.2 L609.7 484.1 L610.6 489.7 L611.4 494.9 L612.3 499.6 L613.2 503.8 L614.1 507.6 L615.0 510.9 L615.8 513.7 L616.7 516.2 L617.6 518.3 L618.5 520.0 L619.3 521.5 L620.2 522.6 L621.1 523.6 L622.0 524.4 L622.9 525.0 L623.7 525.5 L624.6 525.9" fill="none" stroke="#00ff00" stroke-width="2.4" stroke-dasharray="3.5 1.0"/>
<path d="M575.5 525.5 L576.3 525.2 L577.2 524.8 L578.1 524.3 L579.0 523.8 L579.9 523.2 L580.7 522.4 L581.6 521.6 L582.5 520.6 L583.4 519.5 L584.2 518.2 L585.1 516.8 L586.0 515.2 L586.9 513.4 L587.8 511.4 L588.6 509.1 L589.5 506.6 L590.4 503.9 L591.3 501.0 L592.1 497.8 L593.0 494.4 L593.9 490.7 L594.8 486.8 L595.7 482.7 L596.5 478.4 L597.4 474.0 L598.3 469.4 L599.2 464.6 L600.0 459.8 L600.9 454.9 L601.8 450.1 L602.7 445.3 L603.5 440.5 L604.4 436.0 L605.3 431.6 L606.2 427.4 L607.1 423.6 L607.9 420.1 L608.8 417.0 L609.7 414.3 L610.6 412.0 L611.4 410.3 L612.3 409.1 L613.2 408.4 L614.1 408.2 L615.0 408.6 L615.8 409.6 L616.7 411.2 L617.6 413.4 L618.5 416.1 L619.3 419.3 L620.2 422.9 L621.1 426.9 L622.0 431.3 L622.9 435.9 L623.7 440.7 L624.6 445.7 L625.5 450.8 L626.4 456.0 L627.2 461.1 L628.1 466.2 L629.0 471.1 L629.9 476.0 L630.8 480.6 L631.6 485.0 L632.5 489.2 L633.4 493.2 L634.3 496.9 L635.1 500.3 L636.0 503.5 L636.9 506.4 L637.8 509.0 L638.6 511.4 L639.5 513.5 L640.4 515.4 L641.3 517.1 L642.2 518.6 L643.0 519.9 L643.9 521.0 L644.8 522.0 L645.7 522.8 L646.5 523.5 L647.4 524.1 L648.3 524.6 L649.2 525.1 L650.1 525.4 L650.9 525.7 L651.8 526.0 L652.7 526.2" fill="none" stroke="#00ffff" stroke-width="2.4" stroke-dasharray="3.5 1.0"/>
<path d="M126.7 304.9 H172 L186 304.2" stroke="#000080" stroke-width="2" fill="none"/>
<path d="M126.7 302.4 L129.3 302.4 L132.9 302.4 L137.2 302.3 L141.8 302.3 L146.2 302.2 L150.0 302.2 L153.2 302.2 L156.0 302.1 L158.6 302.1 L161.4 302.0 L164.4 301.9 L168.0 301.8 L172.3 301.6 L177.2 301.4 L182.4 301.1 L187.7 300.9 L192.6 300.6 L197.0 300.4 L200.8 300.2 L204.2 300.0 L207.3 299.9 L210.3 299.7 L213.2 299.5 L216.0 299.2 L218.8 298.8 L221.4 298.4 L224.0 297.9 L226.5 297.4 L229.0 296.9 L231.5 296.5 L234.1 296.1 L236.7 295.7 L239.4 295.2 L242.0 294.8 L244.5 294.5 L247.0 294.2 L249.3 294.0 L251.4 293.7 L253.4 293.6 L255.6 293.4 L257.8 293.3 L260.4 293.3 L263.4 293.3 L266.9 293.4 L270.5 293.6 L274.0 293.8 L277.3 293.9 L280.0 294.0 L282.1 294.0 L283.6 294.0 L284.9 294.0 L286.1 293.9 L287.4 293.9 L289.2 293.8 L291.4 293.7 L293.9 293.5 L296.5 293.4 L299.2 293.2 L302.0 293.1 L304.6 293.1 L307.2 293.2 L309.7 293.4 L312.3 293.6 L314.9 293.8 L317.4 294.1 L320.0 294.2 L322.6 294.3 L325.3 294.4 L327.9 294.5 L330.6 294.5 L333.1 294.4 L335.4 294.2 L337.6 293.8 L339.6 293.2 L341.5 292.5 L343.4 291.8 L345.1 291.1 L346.9 290.4 L348.6 289.8 L350.1 289.1 L351.6 288.4 L353.1 287.8 L354.7 287.3 L356.5 286.9 L358.5 286.7 L360.5 286.7 L362.6 286.8 L364.9 287.0 L367.4 287.1 L370.0 287.3 L373.0 287.5 L376.3 287.9 L379.7 288.2 L383.2 288.5 L386.4 288.6 L389.2 288.5 L391.6 288.1 L393.7 287.4 L395.6 286.6 L397.4 285.7 L399.1 284.8 L400.8 284.0 L402.5 283.3 L404.2 282.5 L405.9 281.8 L407.4 281.2 L408.9 280.6 L410.4 280.2 L411.7 279.9 L413.0 279.8 L414.1 279.8 L415.3 279.8 L416.6 279.9 L418.0 280.0 L419.5 280.1 L421.0 280.3 L422.6 280.6 L424.4 280.8 L426.3 281.2 L428.5 281.5 L431.0 281.9 L433.8 282.5 L436.8 283.0 L439.9 283.6 L442.9 284.0 L445.8 284.2 L448.5 284.1 L451.3 283.8 L454.0 283.4 L456.6 282.9 L459.0 282.7 L461.2 282.7 L463.1 282.9 L464.8 283.3 L466.4 283.7 L467.8 284.5 L469.3 285.5 L470.8 286.9 L472.4 288.8 L473.9 291.0 L475.5 293.5 L477.1 296.3 L478.7 299.3 L480.4 302.3 L482.2 305.6 L484.2 309.2 L486.1 312.9 L488.1 316.7 L490.1 320.2 L491.9 323.5 L493.6 326.5 L495.2 329.3 L496.8 331.9 L498.4 334.4 L499.9 336.7 L501.5 338.8 L503.1 340.8 L504.6 342.6 L506.1 344.3 L507.7 345.7 L509.4 347.0 L511.2 348.1 L513.2 348.9 L515.5 349.5 L517.8 349.9 L520.1 350.2 L522.4 350.3 L524.6 350.4 L526.6 350.4 L528.4 350.2 L530.2 350.0 L532.1 349.6 L534.0 349.2 L536.2 348.8 L538.7 348.4 L541.4 348.0 L544.3 347.6 L547.2 347.0 L549.8 346.2 L552.1 345.2 L554.0 343.9 L555.5 342.3 L556.8 340.6 L558.1 338.7 L559.4 336.7 L560.8 334.6 L562.3 332.4 L563.9 329.9 L565.4 327.3 L567.0 324.8 L568.7 322.4 L570.4 320.2 L572.3 318.4 L574.3 317.0 L576.4 315.6 L578.4 314.3 L580.3 312.6 L581.9 310.6 L583.2 308.2 L584.2 305.5 L585.0 302.6 L585.8 299.5 L586.7 296.1 L587.7 292.3 L588.9 287.9 L590.2 282.9 L591.6 277.6 L592.9 272.4 L594.2 267.5 L595.4 263.5 L596.5 260.3 L597.4 257.8 L598.4 255.7 L599.3 253.8 L600.2 252.0 L601.2 250.0 L602.3 248.1 L603.4 246.6 L604.6 245.1 L605.8 243.4 L606.9 241.3 L607.9 238.5 L608.8 234.9 L609.7 230.6 L610.5 225.9 L611.3 221.0 L612.0 216.2 L612.7 211.5 L613.3 207.1 L613.9 202.7 L614.4 198.4 L614.8 194.0 L615.4 189.5 L616.0 185.0 L616.7 180.2 L617.5 175.1 L618.4 169.9 L619.2 164.9 L620.0 160.3 L620.8 156.2 L621.5 152.9 L622.0 150.2 L622.6 147.9 L623.2 145.7 L623.8 143.4 L624.6 140.8 L625.5 137.8 L626.6 134.7 L627.8 131.4 L629.0 128.1 L630.1 124.8 L631.3 121.5 L632.4 118.2 L633.6 114.9 L634.7 111.5 L635.8 108.3 L637.0 105.2 L638.1 102.3 L639.2 99.6 L640.3 97.1 L641.5 94.8 L642.6 92.6 L643.7 90.6 L644.8 88.8 L645.9 87.2 L646.9 85.9 L648.0 84.8 L649.0 83.8 L650.2 82.9 L651.5 82.1 L652.6 81.4 L653.4 80.9 L654.3 80.4 L655.7 80.1 L657.9 79.8 L661.2 79.6 L665.9 79.4 L671.6 79.4 L678.1 79.3 L685.2 79.4 L692.5 79.4 L700.0 79.4 L707.7 79.4 L715.7 79.4 L724.1 79.4 L732.7 79.4 L741.4 79.4 L750.0 79.4 L759.3 79.4 L769.4 79.4 L779.6 79.4 L789.1 79.4 L797.2 79.4 L803.0 79.4" fill="none" stroke="#000" stroke-width="5.2" stroke-linejoin="round"/>
<path d="M634.0 111.0 L634.5 109.6 L635.1 107.7 L635.9 105.4 L636.7 103.1 L637.5 101.0 L638.2 99.1 L638.9 97.2 L639.6 95.4 L640.3 93.6 L641.0 92.0 L641.7 90.5 L642.4 89.0 L643.1 87.7 L643.8 86.4 L644.6 85.2 L645.4 84.1 L646.2 83.0 L647.1 82.0 L648.0 81.1 L649.0 80.4 L650.1 79.8 L651.2 79.4 L652.4 79.0 L653.6 78.8 L655.0 78.6 L656.6 78.5 L658.4 78.5 L660.3 78.5 L661.9 78.6 L663.0 78.6" fill="none" stroke="#000" stroke-width="3.6" stroke-linejoin="round" stroke-linecap="round"/>
<path d="M164.8 527.0 L164.8 526.8 L165.7 526.8 L166.6 526.7 L167.4 526.7 L168.3 526.6 L169.2 526.6 L170.1 526.5 L170.9 526.4 L171.8 526.3 L172.7 526.1 L173.6 526.0 L174.5 525.8 L175.3 525.6 L176.2 525.3 L177.1 525.0 L178.0 524.7 L178.8 524.3 L179.7 523.9 L180.6 523.4 L181.5 522.9 L182.4 522.2 L183.2 521.6 L184.1 520.8 L185.0 519.9 L185.9 519.0 L186.7 517.9 L187.6 516.7 L188.5 515.4 L189.4 514.0 L190.2 512.4 L191.1 510.7 L192.0 508.9 L192.9 506.9 L193.8 504.7 L194.6 502.4 L195.5 499.9 L196.4 497.2 L197.3 494.3 L198.1 491.3 L199.0 488.1 L199.9 484.7 L200.8 481.1 L201.7 477.3 L202.5 473.4 L203.4 469.3 L204.3 465.0 L205.2 460.6 L206.0 456.1 L206.9 451.4 L207.8 446.5 L208.7 441.6 L209.6 436.6 L210.4 431.5 L211.3 426.3 L212.2 421.1 L213.1 415.8 L213.9 410.5 L214.8 405.2 L215.7 400.0 L216.6 394.8 L217.5 389.6 L218.3 384.5 L219.2 379.4 L220.1 374.5 L221.0 369.7 L221.8 365.0 L222.7 360.4 L223.6 356.0 L224.5 351.7 L225.3 347.6 L226.2 343.7 L227.1 339.9 L228.0 336.4 L228.9 333.0 L229.7 329.7 L230.6 326.7 L231.5 323.8 L232.4 321.2 L233.2 318.7 L234.1 316.3 L235.0 314.2 L235.9 312.2 L236.8 310.3 L237.6 308.6 L238.5 307.0 L239.4 305.6 L240.3 304.3 L241.1 303.1 L242.0 302.1 L242.9 301.1 L243.8 300.3 L244.7 299.5 L245.5 298.8 L246.4 298.2 L247.3 297.6 L248.2 297.2 L249.0 296.7 L249.9 296.4 L250.8 296.0 L251.7 295.7 L252.6 295.5 L253.4 295.3 L254.3 295.1 L255.2 294.9 L256.1 294.8 L256.9 294.7 L257.8 294.6 L258.7 294.5 L259.6 294.5 L260.4 294.5 L261.3 294.5 L262.2 294.5 L263.1 294.5 L263.4 294.5 L266.9 294.6 L270.5 294.8 L274.0 295.0 L277.3 295.1 L280.0 295.2 L282.1 295.2 L283.6 295.2 L284.9 295.2 L286.1 295.1 L287.4 295.1 L289.2 295.0 L291.4 294.9 L293.9 294.7 L296.5 294.6 L299.2 294.4 L302.0 294.3 L304.6 294.3 L307.2 294.4 L309.7 294.6 L312.3 294.8 L314.9 295.0 L317.4 295.3 L320.0 295.4 L322.6 295.5 L325.3 295.6 L327.9 295.7 L330.6 295.7 L333.1 295.6 L335.4 295.4 L337.6 295.0 L339.6 294.4 L341.5 293.7 L343.4 293.0 L345.1 292.3 L346.9 291.6 L348.6 291.0 L350.1 290.3 L351.6 289.6 L353.1 289.0 L354.7 288.5 L356.5 288.1 L358.5 287.9 L360.5 287.9 L362.6 288.0 L364.9 288.2 L367.4 288.3 L370.0 288.5 L373.0 288.7 L376.3 289.1 L379.7 289.4 L383.2 289.7 L386.4 289.8 L389.2 289.7 L391.6 289.3 L393.7 288.6 L395.6 287.8 L397.4 286.9 L399.1 286.0 L400.8 285.2 L402.5 284.5 L407.3 286.9 L407.9 287.2 L408.7 287.5 L409.7 288.0 L410.9 288.7 L412.0 289.5 L413.2 290.5 L414.4 291.5 L415.8 292.7 L417.2 294.4 L418.8 296.5 L420.6 299.2 L422.6 302.4 L424.6 306.0 L426.6 309.8 L428.5 313.8 L430.2 318.0 L431.8 322.6 L433.4 327.4 L434.8 332.2 L436.2 336.9 L437.5 341.6 L438.7 346.2 L439.8 350.9 L440.9 355.5 L441.9 360.0 L442.8 364.3 L443.7 368.6 L444.5 372.7 L445.2 376.8 L446.0 381.0 L446.7 385.2 L447.4 389.3 L448.1 393.5 L448.8 397.7 L449.5 402.0 L450.3 406.5 L451.0 411.0 L451.8 415.6 L452.7 420.3 L453.5 425.0 L454.4 429.8 L455.3 434.7 L456.2 439.6 L457.1 444.4 L458.0 449.0 L458.9 453.5 L459.8 457.8 L460.7 462.0 L461.6 466.1 L462.5 470.0 L463.4 473.7 L464.3 477.2 L465.2 480.5 L466.1 483.8 L467.0 487.0 L468.0 490.2 L469.0 493.3 L470.0 496.4 L471.0 499.3 L472.0 502.0 L473.0 504.5 L474.0 506.9 L475.0 509.0 L476.0 511.1 L477.0 513.0 L478.0 514.8 L479.0 516.4 L479.9 517.9 L480.9 519.2 L482.0 520.5 L483.1 521.6 L484.3 522.6 L485.6 523.5 L486.8 524.3 L488.0 525.0 L489.3 525.6 L490.7 526.1 L492.0 526.5 L493.2 526.8 L494.0 527.0 L494.0 527.0Z" fill="rgba(255,0,0,0.5)" />
<path d="M284.1 527.0 L284.1 526.5 L285.0 526.4 L285.9 526.3 L286.8 526.2 L287.7 526.1 L288.5 526.0 L289.4 525.9 L290.3 525.7 L291.2 525.5 L292.0 525.3 L292.9 525.1 L293.8 524.9 L294.7 524.6 L295.5 524.3 L296.4 524.0 L297.3 523.6 L298.2 523.2 L299.1 522.8 L299.9 522.3 L300.8 521.7 L301.7 521.2 L302.6 520.5 L303.4 519.8 L304.3 519.0 L305.2 518.2 L306.1 517.3 L307.0 516.3 L307.8 515.2 L308.7 514.0 L309.6 512.8 L310.5 511.4 L311.3 510.0 L312.2 508.4 L313.1 506.7 L314.0 504.9 L314.9 503.0 L315.7 500.9 L316.6 498.8 L317.5 496.4 L318.4 494.0 L319.2 491.4 L320.1 488.6 L321.0 485.7 L321.9 482.7 L322.8 479.5 L323.6 476.1 L324.5 472.6 L325.4 469.0 L326.3 465.2 L327.1 461.2 L328.0 457.1 L328.9 452.8 L329.8 448.4 L330.6 443.9 L331.5 439.3 L332.4 434.5 L333.3 429.6 L334.2 424.6 L335.0 419.5 L335.9 414.4 L336.8 409.2 L337.7 403.9 L338.5 398.6 L339.4 393.2 L340.3 387.9 L341.2 382.6 L342.1 377.2 L342.9 372.0 L343.8 366.7 L344.7 361.6 L345.6 356.5 L346.4 351.6 L347.3 346.8 L348.2 342.2 L349.1 337.7 L350.0 333.4 L350.8 329.3 L351.7 325.4 L352.6 321.8 L353.5 318.4 L354.3 315.3 L355.2 312.5 L356.1 309.9 L357.0 307.7 L357.9 305.8 L358.7 304.2 L359.6 302.9 L360.5 302.0 L361.4 301.4 L362.2 301.2 L363.1 301.3 L364.0 301.7 L364.9 302.5 L365.7 303.7 L366.6 305.1 L367.5 306.9 L368.4 309.0 L369.3 311.4 L370.1 314.1 L371.0 317.1 L371.9 320.4 L372.8 323.9 L373.6 327.7 L374.5 331.7 L375.4 335.9 L376.3 340.3 L377.2 344.9 L378.0 349.7 L378.9 354.6 L379.8 359.6 L380.7 364.7 L381.5 369.9 L382.4 375.1 L383.3 380.4 L384.2 385.8 L385.1 391.1 L385.9 396.5 L386.8 401.8 L387.7 407.1 L388.6 412.3 L389.4 417.5 L390.3 422.6 L391.2 427.6 L392.1 432.5 L393.0 437.4 L393.8 442.1 L394.7 446.6 L395.6 451.1 L396.5 455.4 L397.3 459.6 L398.2 463.6 L399.1 467.5 L400.0 471.2 L400.8 474.7 L401.7 478.2 L402.6 481.4 L403.5 484.5 L404.4 487.5 L405.2 490.3 L406.1 493.0 L407.0 495.5 L407.9 497.8 L408.7 500.1 L409.6 502.2 L410.5 504.2 L411.4 506.0 L412.3 507.7 L413.1 509.3 L414.0 510.9 L414.9 512.2 L415.8 513.5 L416.6 514.7 L417.5 515.9 L418.4 516.9 L419.3 517.8 L420.2 518.7 L421.0 519.5 L421.9 520.2 L422.8 520.9 L423.7 521.5 L424.5 522.1 L425.4 522.6 L426.3 523.0 L427.2 523.5 L428.1 523.8 L428.9 524.2 L429.8 524.5 L430.7 524.8 L431.6 525.0 L432.4 525.2 L433.3 525.4 L434.2 525.6 L435.1 525.8 L435.9 525.9 L436.8 526.1 L437.7 526.2 L438.6 526.3 L438.6 527.0Z" fill="rgba(255,0,0,0.5)" />
<path d="M340.3 527.0 L340.3 525.7 L341.2 525.5 L342.1 525.3 L342.9 525.1 L343.8 524.9 L344.7 524.6 L345.6 524.3 L346.4 524.0 L347.3 523.7 L348.2 523.3 L349.1 522.9 L350.0 522.5 L350.8 522.0 L351.7 521.5 L352.6 520.9 L353.5 520.3 L354.3 519.6 L355.2 518.9 L356.1 518.0 L357.0 517.2 L357.9 516.2 L358.7 515.2 L359.6 514.1 L360.5 513.0 L361.4 511.7 L362.2 510.4 L363.1 508.9 L364.0 507.4 L364.9 505.8 L365.7 504.0 L366.6 502.2 L367.5 500.2 L368.4 498.1 L369.3 495.9 L370.1 493.6 L371.0 491.1 L371.9 488.5 L372.8 485.8 L373.6 483.0 L374.5 480.0 L375.4 476.9 L376.3 473.7 L377.2 470.3 L378.0 466.8 L378.9 463.1 L379.8 459.4 L380.7 455.5 L381.5 451.4 L382.4 447.3 L383.3 443.1 L384.2 438.7 L385.1 434.3 L385.9 429.7 L386.8 425.1 L387.7 420.4 L388.6 415.6 L389.4 410.8 L390.3 405.9 L391.2 401.0 L392.1 396.0 L393.0 391.1 L393.8 386.1 L394.7 381.2 L395.6 376.3 L396.5 371.5 L397.3 366.7 L398.2 362.0 L399.1 357.4 L400.0 352.9 L400.8 348.5 L401.7 344.2 L402.6 340.1 L403.5 336.2 L404.4 332.4 L405.2 328.9 L406.1 325.5 L407.0 322.4 L407.9 319.5 L408.7 316.8 L409.6 314.4 L410.5 312.3 L411.4 310.4 L412.3 308.8 L413.1 307.5 L414.0 306.5 L414.9 305.7 L415.8 305.3 L416.6 305.2 L417.5 305.3 L418.4 305.7 L419.3 306.4 L420.2 307.2 L421.0 308.3 L421.9 309.7 L422.8 311.3 L423.7 313.1 L424.5 315.1 L425.4 317.4 L426.3 319.8 L427.2 322.5 L428.1 325.3 L428.9 328.3 L429.8 331.5 L430.7 334.9 L431.6 338.4 L432.4 342.0 L433.3 345.8 L434.2 349.7 L435.1 353.7 L435.9 357.8 L436.8 362.0 L436.8 362.0 L437.5 364.9 L438.5 369.1 L439.6 374.0 L440.8 378.8 L441.8 383.0 L442.7 386.6 L443.6 389.9 L444.5 393.1 L445.4 396.1 L446.3 399.0 L447.2 401.7 L448.1 404.2 L448.9 406.6 L449.7 409.0 L450.5 411.5 L451.2 414.0 L451.7 416.3 L452.2 418.8 L452.8 421.6 L453.5 425.0 L454.3 429.2 L455.2 434.0 L456.1 439.1 L457.1 444.2 L458.0 449.0 L458.9 453.5 L459.8 457.8 L460.7 462.0 L461.6 466.1 L462.5 470.0 L463.4 473.7 L464.3 477.2 L465.2 480.5 L466.1 483.8 L467.0 487.0 L468.0 490.2 L469.0 493.3 L470.0 496.4 L471.0 499.3 L472.0 502.0 L473.0 504.5 L474.0 506.9 L475.0 509.0 L476.0 511.1 L477.0 513.0 L478.0 514.8 L479.0 516.4 L479.9 517.9 L480.9 519.2 L482.0 520.5 L483.1 521.6 L484.3 522.6 L485.6 523.5 L486.8 524.3 L488.0 525.0 L489.3 525.6 L490.7 526.1 L492.0 526.5 L493.2 526.8 L494.0 527.0 L494.0 527.0Z" fill="rgba(255,0,0,0.5)" />
<path d="M164.8 526.8 L165.7 526.8 L166.6 526.7 L167.4 526.7 L168.3 526.6 L169.2 526.6 L170.1 526.5 L170.9 526.4 L171.8 526.3 L172.7 526.1 L173.6 526.0 L174.5 525.8 L175.3 525.6 L176.2 525.3 L177.1 525.0 L178.0 524.7 L178.8 524.3 L179.7 523.9 L180.6 523.4 L181.5 522.9 L182.4 522.2 L183.2 521.6 L184.1 520.8 L185.0 519.9 L185.9 519.0 L186.7 517.9 L187.6 516.7 L188.5 515.4 L189.4 514.0 L190.2 512.4 L191.1 510.7 L192.0 508.9 L192.9 506.9 L193.8 504.7 L194.6 502.4 L195.5 499.9 L196.4 497.2 L197.3 494.3 L198.1 491.3 L199.0 488.1 L199.9 484.7 L200.8 481.1 L201.7 477.3 L202.5 473.4 L203.4 469.3 L204.3 465.0 L205.2 460.6 L206.0 456.1 L206.9 451.4 L207.8 446.5 L208.7 441.6 L209.6 436.6 L210.4 431.5 L211.3 426.3 L212.2 421.1 L213.1 415.8 L213.9 410.5 L214.8 405.2 L215.7 400.0 L216.6 394.8 L217.5 389.6 L218.3 384.5 L219.2 379.4 L220.1 374.5 L221.0 369.7 L221.8 365.0 L222.7 360.4 L223.6 356.0 L224.5 351.7 L225.3 347.6 L226.2 343.7 L227.1 339.9 L228.0 336.4 L228.9 333.0 L229.7 329.7 L230.6 326.7 L231.5 323.8 L232.4 321.2 L233.2 318.7 L234.1 316.3 L235.0 314.2 L235.9 312.2 L236.8 310.3 L237.6 308.6 L238.5 307.0 L239.4 305.6 L240.3 304.3 L241.1 303.1 L242.0 302.1 L242.9 301.1 L243.8 300.3 L244.7 299.5 L245.5 298.8 L246.4 298.2 L247.3 297.6 L248.2 297.2 L249.0 296.7 L249.9 296.4 L250.8 296.0 L251.7 295.7 L252.6 295.5 L253.4 295.3 L254.3 295.1 L255.2 294.9 L256.1 294.8 L256.9 294.7 L257.8 294.6 L258.7 294.5 L259.6 294.4 L260.4 294.3 L261.3 294.3 L262.2 294.3 L263.1 294.2 L264.0 294.2 L264.8 294.2 L265.7 294.1 L266.6 294.1 L267.5 294.1 L268.3 294.1 L269.2 294.1 L270.1 294.1 L271.0 294.1 L271.9 294.1 L272.7 294.1 L273.6 294.1 L274.5 294.1 L275.4 294.1 L276.2 294.1 L277.1 294.1 L278.0 294.1 L278.9 294.1 L279.8 294.1 L280.6 294.1 L281.5 294.1 L282.4 294.2 L283.3 294.2 L284.1 294.2 L285.0 294.3 L285.9 294.3 L286.8 294.4 L287.7 294.4 L288.5 294.5 L289.4 294.6 L290.3 294.7 L291.2 294.9 L292.0 295.0 L292.9 295.2 L293.8 295.4 L294.7 295.6 L295.5 295.9 L296.4 296.2 L297.3 296.6 L298.2 297.0 L299.1 297.5 L299.9 298.0 L300.8 298.7 L301.7 299.3 L302.6 300.1 L303.4 301.0 L304.3 302.0 L305.2 303.0 L306.1 304.2 L307.0 305.5 L307.8 307.0 L308.7 308.6 L309.6 310.3 L310.5 312.2 L311.3 314.3 L312.2 316.5 L313.1 318.9 L314.0 321.5 L314.9 324.3 L315.7 327.2 L316.6 330.4 L317.5 333.7 L318.4 337.2 L319.2 340.9 L320.1 344.8 L321.0 348.9 L321.9 353.2 L322.8 357.6 L323.6 362.1 L324.5 366.9 L325.4 371.7 L326.3 376.7 L327.1 381.8 L328.0 387.0 L328.9 392.3 L329.8 397.6 L330.6 403.0 L331.5 408.4 L332.4 413.8 L333.3 419.2 L334.2 424.5 L335.0 429.8 L335.9 435.1 L336.8 440.3 L337.7 445.3 L338.5 450.3 L339.4 455.1 L340.3 459.8 L341.2 464.4 L342.1 468.8 L342.9 473.0 L343.8 477.0 L344.7 480.9 L345.6 484.6 L346.4 488.0 L347.3 491.3 L348.2 494.4 L349.1 497.4 L350.0 500.1 L350.8 502.6 L351.7 505.0 L352.6 507.2 L353.5 509.2 L354.3 511.1 L355.2 512.8 L356.1 514.4 L357.0 515.8 L357.9 517.1 L358.7 518.2 L359.6 519.3 L360.5 520.2 L361.4 521.1 L362.2 521.8 L363.1 522.5 L364.0 523.1 L364.9 523.6 L365.7 524.1 L366.6 524.5 L367.5 524.9 L368.4 525.2 L369.3 525.5 L370.1 525.7 L371.0 525.9 L371.9 526.1 L372.8 526.2 L373.6 526.3 L374.5 526.5 L375.4 526.5 L376.3 526.6 L377.2 526.7 L378.0 526.7 L378.9 526.8" fill="none" stroke="#ff0000" stroke-width="2.1" />
<path d="M126.7 302.4 L129.3 302.4 L132.9 302.4 L137.2 302.3 L141.8 302.3 L146.2 302.2 L150.0 302.2 L153.2 302.2 L156.0 302.1 L158.6 302.1 L161.4 302.0 L164.4 301.9 L168.0 301.8 L172.3 301.6 L177.2 301.4 L182.4 301.1 L187.7 300.9 L192.6 300.6 L197.0 300.4 L200.8 300.2 L204.2 300.0 L207.3 299.9 L210.3 299.7 L213.2 299.5 L216.0 299.2 L218.8 298.8 L221.4 298.4 L224.0 297.9 L226.5 297.4 L229.0 296.9 L231.5 296.5 L234.1 296.1 L236.7 295.7 L239.4 295.2 L242.0 294.8 L244.5 294.5 L247.0 294.2 L249.3 294.0 L251.4 293.7 L253.4 293.6 L255.6 293.4 L257.8 293.3 L260.4 293.3 L263.4 293.3 L266.9 293.4 L270.5 293.6 L274.0 293.8 L277.3 293.9 L280.0 294.0 L282.1 294.0 L283.6 294.0 L284.9 294.0 L286.1 293.9 L287.4 293.9 L289.2 293.8 L291.4 293.7 L293.9 293.5 L296.5 293.4 L299.2 293.2 L302.0 293.1 L304.6 293.1 L307.2 293.2 L309.7 293.4 L312.3 293.6 L314.9 293.8 L317.4 294.1 L320.0 294.2 L322.6 294.3 L325.3 294.4 L327.9 294.5 L330.6 294.5 L333.1 294.4 L335.4 294.2 L337.6 293.8 L339.6 293.2 L341.5 292.5 L343.4 291.8 L345.1 291.1 L346.9 290.4 L348.6 289.8 L350.1 289.1 L351.6 288.4 L353.1 287.8 L354.7 287.3 L356.5 286.9 L358.5 286.7 L360.5 286.7 L362.6 286.8 L364.9 287.0 L367.4 287.1 L370.0 287.3 L373.0 287.5 L376.3 287.9 L379.7 288.2 L383.2 288.5 L386.4 288.6 L389.2 288.5 L391.6 288.1 L393.7 287.4 L395.6 286.6 L397.4 285.7 L399.1 284.8 L400.8 284.0 L402.5 283.3 L404.2 282.5 L405.9 281.8 L407.4 281.2 L408.9 280.6 L410.4 280.2 L411.7 279.9 L413.0 279.8 L414.1 279.8 L415.3 279.8 L416.6 279.9 L418.0 280.0 L419.5 280.1 L421.0 280.3 L422.6 280.6 L424.4 280.8 L426.3 281.2 L428.5 281.5 L431.0 281.9 L433.8 282.5 L436.8 283.0 L439.9 283.6 L442.9 284.0 L445.8 284.2 L448.5 284.1 L451.3 283.8 L454.0 283.4 L456.6 282.9 L459.0 282.7 L461.2 282.7 L463.1 282.9 L464.8 283.3 L466.4 283.7 L467.8 284.5 L469.3 285.5 L470.8 286.9 L472.4 288.8 L473.9 291.0 L475.5 293.5 L477.1 296.3 L478.7 299.3 L480.4 302.3 L482.2 305.6 L484.2 309.2 L486.1 312.9 L488.1 316.7 L490.1 320.2 L491.9 323.5 L493.6 326.5 L495.2 329.3 L496.8 331.9 L498.4 334.4 L499.9 336.7 L501.5 338.8 L503.1 340.8 L504.6 342.6 L506.1 344.3 L507.7 345.7 L509.4 347.0 L511.2 348.1 L513.2 348.9 L515.5 349.5 L517.8 349.9 L520.1 350.2 L522.4 350.3 L524.6 350.4 L526.6 350.4 L528.4 350.2 L530.2 350.0 L532.1 349.6 L534.0 349.2 L536.2 348.8 L538.7 348.4 L541.4 348.0 L544.3 347.6 L547.2 347.0 L549.8 346.2 L552.1 345.2 L554.0 343.9 L555.5 342.3 L556.8 340.6 L558.1 338.7 L559.4 336.7 L560.8 334.6 L562.3 332.4 L563.9 329.9 L565.4 327.3 L567.0 324.8 L568.7 322.4 L570.4 320.2 L572.3 318.4 L574.3 317.0 L576.4 315.6 L578.4 314.3 L580.3 312.6 L581.9 310.6 L583.2 308.2 L584.2 305.5 L585.0 302.6 L585.8 299.5 L586.7 296.1 L587.7 292.3 L588.9 287.9 L590.2 282.9 L591.6 277.6 L592.9 272.4 L594.2 267.5 L595.4 263.5 L596.5 260.3 L597.4 257.8 L598.4 255.7 L599.3 253.8 L600.2 252.0 L601.2 250.0 L602.3 248.1 L603.4 246.6 L604.6 245.1 L605.8 243.4 L606.9 241.3 L607.9 238.5 L608.8 234.9 L609.7 230.6 L610.5 225.9 L611.3 221.0 L612.0 216.2 L612.7 211.5 L613.3 207.1 L613.9 202.7 L614.4 198.4 L614.8 194.0 L615.4 189.5 L616.0 185.0 L616.7 180.2 L617.5 175.1 L618.4 169.9 L619.2 164.9 L620.0 160.3 L620.8 156.2 L621.5 152.9 L622.0 150.2 L622.6 147.9 L623.2 145.7 L623.8 143.4 L624.6 140.8 L625.5 137.8 L626.6 134.7 L627.8 131.4 L629.0 128.1 L630.1 124.8 L631.3 121.5 L632.4 118.2 L633.6 114.9 L634.7 111.5 L635.8 108.3 L637.0 105.2 L638.1 102.3 L639.2 99.6 L640.3 97.1 L641.5 94.8 L642.6 92.6 L643.7 90.6 L644.8 88.8 L645.9 87.2 L646.9 85.9 L648.0 84.8 L649.0 83.8 L650.2 82.9 L651.5 82.1 L652.6 81.4 L653.4 80.9 L654.3 80.4 L655.7 80.1 L657.9 79.8 L661.2 79.6 L665.9 79.4 L671.6 79.4 L678.1 79.3 L685.2 79.4 L692.5 79.4 L700.0 79.4 L707.7 79.4 L715.7 79.4 L724.1 79.4 L732.7 79.4 L741.4 79.4 L750.0 79.4 L759.3 79.4 L769.4 79.4 L779.6 79.4 L789.1 79.4 L797.2 79.4 L803.0 79.4" fill="none" stroke="#ff0000" stroke-width="2.4" stroke-linejoin="round"/>
<path d="M125.5 27.1 H801.3 V527.0 H125.5 Z" fill="none" stroke="#000" stroke-width="2.3" stroke-linejoin="miter"/>
<path d="M164.8 527.0 v10.2 M164.8 27.1 v-10.2" stroke="#000" stroke-width="2.2" stroke-linecap="round"/>
<text transform="translate(159.6 560.0) scale(1.000 1)" font-size="28.5" text-anchor="middle" font-family="Liberation Sans, sans-serif">-80</text>
<path d="M235.0 527.0 v10.2 M235.0 27.1 v-10.2" stroke="#000" stroke-width="2.2" stroke-linecap="round"/>
<text transform="translate(229.8 560.0) scale(1.000 1)" font-size="28.5" text-anchor="middle" font-family="Liberation Sans, sans-serif">-60</text>
<path d="M305.2 527.0 v10.2 M305.2 27.1 v-10.2" stroke="#000" stroke-width="2.2" stroke-linecap="round"/>
<text transform="translate(300.0 560.0) scale(1.000 1)" font-size="28.5" text-anchor="middle" font-family="Liberation Sans, sans-serif">-40</text>
<path d="M375.4 527.0 v10.2 M375.4 27.1 v-10.2" stroke="#000" stroke-width="2.2" stroke-linecap="round"/>
<text transform="translate(370.2 560.0) scale(1.000 1)" font-size="28.5" text-anchor="middle" font-family="Liberation Sans, sans-serif">-20</text>
<path d="M445.6 527.0 v10.2 M445.6 27.1 v-10.2" stroke="#000" stroke-width="2.2" stroke-linecap="round"/>
<text transform="translate(445.6 560.0) scale(1.000 1)" font-size="28.5" text-anchor="middle" font-family="Liberation Sans, sans-serif">0</text>
<path d="M515.8 527.0 v10.2 M515.8 27.1 v-10.2" stroke="#000" stroke-width="2.2" stroke-linecap="round"/>
<text transform="translate(515.8 560.0) scale(1.000 1)" font-size="28.5" text-anchor="middle" font-family="Liberation Sans, sans-serif">20</text>
<path d="M586.0 527.0 v10.2 M586.0 27.1 v-10.2" stroke="#000" stroke-width="2.2" stroke-linecap="round"/>
<text transform="translate(586.0 560.0) scale(1.000 1)" font-size="28.5" text-anchor="middle" font-family="Liberation Sans, sans-serif">40</text>
<path d="M656.2 527.0 v10.2 M656.2 27.1 v-10.2" stroke="#000" stroke-width="2.2" stroke-linecap="round"/>
<text transform="translate(656.2 560.0) scale(1.000 1)" font-size="28.5" text-anchor="middle" font-family="Liberation Sans, sans-serif">60</text>
<path d="M726.4 527.0 v10.2 M726.4 27.1 v-10.2" stroke="#000" stroke-width="2.2" stroke-linecap="round"/>
<text transform="translate(726.4 560.0) scale(1.000 1)" font-size="28.5" text-anchor="middle" font-family="Liberation Sans, sans-serif">80</text>
<path d="M796.6 527.0 v10.2 M796.6 27.1 v-10.2" stroke="#000" stroke-width="2.2" stroke-linecap="round"/>
<text transform="translate(798.1 560.0) scale(1.000 1)" font-size="28.5" text-anchor="middle" font-family="Liberation Sans, sans-serif">100</text>
<path d="M129.7 527.0 v5.2 M129.7 27.1 v-5.2" stroke="#000" stroke-width="2.2" stroke-linecap="round"/>
<path d="M199.9 527.0 v5.2 M199.9 27.1 v-5.2" stroke="#000" stroke-width="2.2" stroke-linecap="round"/>
<path d="M270.1 527.0 v5.2 M270.1 27.1 v-5.2" stroke="#000" stroke-width="2.2" stroke-linecap="round"/>
<path d="M340.3 527.0 v5.2 M340.3 27.1 v-5.2" stroke="#000" stroke-width="2.2" stroke-linecap="round"/>
<path d="M410.5 527.0 v5.2 M410.5 27.1 v-5.2" stroke="#000" stroke-width="2.2" stroke-linecap="round"/>
<path d="M480.7 527.0 v5.2 M480.7 27.1 v-5.2" stroke="#000" stroke-width="2.2" stroke-linecap="round"/>
<path d="M550.9 527.0 v5.2 M550.9 27.1 v-5.2" stroke="#000" stroke-width="2.2" stroke-linecap="round"/>
<path d="M621.1 527.0 v5.2 M621.1 27.1 v-5.2" stroke="#000" stroke-width="2.2" stroke-linecap="round"/>
<path d="M691.3 527.0 v5.2 M691.3 27.1 v-5.2" stroke="#000" stroke-width="2.2" stroke-linecap="round"/>
<path d="M761.5 527.0 v5.2 M761.5 27.1 v-5.2" stroke="#000" stroke-width="2.2" stroke-linecap="round"/>
<path d="M125.5 527.0 h-10.3" stroke="#000" stroke-width="2.2" stroke-linecap="round"/>
<text transform="translate(113.7 535.8) scale(1.000 1)" font-size="28.5" text-anchor="end" font-family="Liberation Sans, sans-serif">0.0</text>
<path d="M125.5 460.2 h-10.3" stroke="#000" stroke-width="2.2" stroke-linecap="round"/>
<text transform="translate(113.7 469.1) scale(1.000 1)" font-size="28.5" text-anchor="end" font-family="Liberation Sans, sans-serif">0.1</text>
<path d="M125.5 393.5 h-10.3" stroke="#000" stroke-width="2.2" stroke-linecap="round"/>
<text transform="translate(113.7 402.3) scale(1.000 1)" font-size="28.5" text-anchor="end" font-family="Liberation Sans, sans-serif">0.2</text>
<path d="M125.5 326.8 h-10.3" stroke="#000" stroke-width="2.2" stroke-linecap="round"/>
<text transform="translate(113.7 335.6) scale(1.000 1)" font-size="28.5" text-anchor="end" font-family="Liberation Sans, sans-serif">0.3</text>
<path d="M125.5 260.0 h-10.3" stroke="#000" stroke-width="2.2" stroke-linecap="round"/>
<text transform="translate(113.7 268.8) scale(1.000 1)" font-size="28.5" text-anchor="end" font-family="Liberation Sans, sans-serif">0.4</text>
<path d="M125.5 193.2 h-10.3" stroke="#000" stroke-width="2.2" stroke-linecap="round"/>
<text transform="translate(113.7 202.0) scale(1.000 1)" font-size="28.5" text-anchor="end" font-family="Liberation Sans, sans-serif">0.5</text>
<path d="M125.5 126.5 h-10.3" stroke="#000" stroke-width="2.2" stroke-linecap="round"/>
<text transform="translate(113.7 135.3) scale(1.000 1)" font-size="28.5" text-anchor="end" font-family="Liberation Sans, sans-serif">0.6</text>
<path d="M125.5 59.8 h-10.3" stroke="#000" stroke-width="2.2" stroke-linecap="round"/>
<text transform="translate(113.7 68.6) scale(1.000 1)" font-size="28.5" text-anchor="end" font-family="Liberation Sans, sans-serif">0.7</text>
<path d="M125.5 493.6 h-5.2" stroke="#000" stroke-width="2.2" stroke-linecap="round"/>
<path d="M125.5 426.9 h-5.2" stroke="#000" stroke-width="2.2" stroke-linecap="round"/>
<path d="M125.5 360.1 h-5.2" stroke="#000" stroke-width="2.2" stroke-linecap="round"/>
<path d="M125.5 293.4 h-5.2" stroke="#000" stroke-width="2.2" stroke-linecap="round"/>
<path d="M125.5 226.6 h-5.2" stroke="#000" stroke-width="2.2" stroke-linecap="round"/>
<path d="M125.5 159.9 h-5.2" stroke="#000" stroke-width="2.2" stroke-linecap="round"/>
<path d="M125.5 93.1 h-5.2" stroke="#000" stroke-width="2.2" stroke-linecap="round"/>
<text x="24" y="44.4" font-size="30" textLength="35.5" lengthAdjust="spacingAndGlyphs" font-family="Liberation Sans, sans-serif">(a)</text>
<text x="147.3" y="70.4" font-size="29.4" font-family="Liberation Sans, sans-serif">25 mol % POPS</text>
<text x="135" y="413.5" font-size="29.3" font-family="Liberation Sans, sans-serif">H<tspan dy="5" font-size="22">2</tspan><tspan dy="-5">O</tspan></text>
<text x="279.5" y="415.7" font-size="29" font-family="Liberation Sans, sans-serif">Anx A2t</text>
<text x="684.5" y="327.8" font-size="29.2" font-family="Liberation Sans, sans-serif">SiO<tspan dy="5" dx="0.7" font-size="24.5">2</tspan></text>
<text x="448.2" y="594.6" font-size="33.5" text-anchor="middle" font-family="Liberation Sans, sans-serif">z [Å]</text>
<text transform="translate(57.0 296.1) rotate(-90)" font-size="33.6" text-anchor="middle" font-family="Liberation Sans, sans-serif">electron density [e<tspan dy="-16.1" dx="1.5" font-size="25" stroke="#000" stroke-width="1.6">-</tspan><tspan dy="16.1" dx="1.5">/Å</tspan><tspan dy="-13.6" font-size="25.2">3</tspan><tspan dy="13.6">]</tspan></text>
<path d="M552.2 1159.6 L552.2 1159.6 L553.1 1159.6 L554.0 1159.6 L554.9 1159.6 L555.8 1159.6 L556.6 1159.6 L557.5 1159.6 L558.4 1159.6 L559.3 1159.6 L560.2 1159.6 L561.1 1159.6 L562.0 1159.5 L562.9 1159.5 L563.7 1159.5 L564.6 1159.5 L565.5 1159.5 L566.4 1159.5 L567.3 1159.4 L568.2 1159.4 L569.1 1159.3 L570.0 1159.3 L570.8 1159.2 L571.7 1159.1 L572.6 1159.1 L573.5 1158.9 L574.4 1158.8 L575.3 1158.7 L576.2 1158.5 L577.0 1158.3 L577.9 1158.1 L578.8 1157.8 L579.7 1157.5 L580.6 1157.2 L581.5 1156.8 L582.4 1156.3 L583.3 1155.8 L584.1 1155.2 L585.0 1154.6 L585.9 1153.8 L586.8 1153.0 L587.7 1152.1 L588.6 1151.0 L589.5 1149.8 L590.4 1148.5 L591.2 1147.1 L592.1 1145.5 L593.0 1143.7 L593.9 1141.7 L594.8 1139.6 L595.7 1137.2 L596.6 1134.6 L597.5 1131.8 L598.4 1128.8 L599.2 1125.5 L600.1 1122.0 L601.0 1118.1 L601.9 1114.0 L602.8 1109.6 L603.7 1105.0 L604.6 1100.0 L605.5 1094.7 L606.3 1089.1 L607.2 1083.2 L608.1 1077.0 L609.0 1070.4 L609.9 1063.6 L610.8 1056.5 L611.7 1049.1 L612.5 1041.4 L613.4 1033.5 L614.3 1025.3 L615.2 1016.8 L616.1 1008.2 L617.0 999.3 L617.9 990.3 L618.8 981.1 L619.6 971.8 L620.5 962.4 L621.4 952.9 L622.3 943.3 L623.2 933.7 L624.1 924.2 L625.0 914.6 L625.9 905.1 L626.8 895.7 L627.6 886.4 L628.5 877.2 L629.4 868.2 L630.3 859.3 L631.2 850.7 L632.1 842.2 L633.0 834.0 L633.8 826.1 L634.7 818.4 L635.6 811.0 L636.5 803.9 L637.4 797.0 L638.3 790.5 L639.2 784.3 L640.1 778.4 L641.0 772.8 L641.8 767.5 L642.7 762.5 L643.6 757.8 L644.5 753.5 L645.4 749.3 L646.3 745.5 L647.2 742.0 L648.0 738.7 L648.9 735.7 L649.8 732.9 L650.7 730.3 L651.6 727.9 L652.5 725.8 L653.4 723.8 L654.3 722.0 L655.1 720.4 L656.0 719.0 L656.9 717.7 L657.8 716.5 L658.7 715.4 L659.6 714.5 L660.5 713.6 L661.4 712.9 L662.2 712.2 L663.1 711.7 L664.0 711.1 L664.9 710.7 L665.8 710.3 L666.7 710.0 L667.6 709.7 L668.5 709.4 L669.3 709.2 L670.2 709.0 L671.1 708.8 L672.0 708.7 L672.9 708.5 L673.8 708.4 L674.7 708.3 L675.6 708.3 L676.5 708.2 L677.3 708.2 L678.2 708.1 L679.1 708.1 L680.0 708.0 L680.9 708.0 L681.8 708.0 L682.7 708.0 L683.5 708.0 L684.4 707.9 L685.3 707.9 L686.2 707.9 L687.1 707.9 L688.0 707.9 L688.9 707.9 L689.8 707.9 L690.6 707.9 L691.5 707.9 L692.4 707.9 L693.3 707.9 L694.2 707.9 L695.1 707.9 L696.0 707.9 L696.9 707.9 L697.8 707.9 L698.6 707.9 L699.5 707.9 L700.4 707.9 L701.3 707.9 L702.2 707.9 L703.1 707.9 L704.0 707.9 L704.8 707.9 L705.7 707.9 L706.6 707.9 L707.5 707.9 L708.4 707.9 L709.3 707.9 L710.2 707.9 L711.1 707.9 L712.0 707.9 L712.8 707.9 L713.7 707.9 L714.6 707.9 L715.5 707.9 L716.4 707.9 L717.3 707.9 L718.2 707.9 L719.0 707.9 L719.9 707.9 L720.8 707.9 L721.7 707.9 L722.6 707.9 L723.5 707.9 L724.4 707.9 L725.3 707.9 L726.1 707.9 L727.0 707.9 L727.9 707.9 L728.8 707.9 L729.7 707.9 L730.6 707.9 L731.5 707.9 L732.4 707.9 L733.2 707.9 L734.1 707.9 L735.0 707.9 L735.9 707.9 L736.8 707.9 L737.7 707.9 L738.6 707.9 L739.5 707.9 L740.3 707.9 L741.2 707.9 L742.1 707.9 L743.0 707.9 L743.9 707.9 L744.8 707.9 L745.7 707.9 L746.6 707.9 L747.5 707.9 L748.3 707.9 L749.2 707.9 L750.1 707.9 L751.0 707.9 L751.9 707.9 L752.8 707.9 L753.7 707.9 L754.5 707.9 L755.4 707.9 L756.3 707.9 L757.2 707.9 L758.1 707.9 L759.0 707.9 L759.9 707.9 L760.8 707.9 L761.6 707.9 L762.5 707.9 L763.4 707.9 L764.3 707.9 L765.2 707.9 L766.1 707.9 L767.0 707.9 L767.9 707.9 L768.8 707.9 L769.6 707.9 L770.5 707.9 L771.4 707.9 L772.3 707.9 L773.2 707.9 L774.1 707.9 L775.0 707.9 L775.8 707.9 L776.7 707.9 L777.6 707.9 L778.5 707.9 L779.4 707.9 L780.3 707.9 L781.2 707.9 L782.1 707.9 L783.0 707.9 L783.8 707.9 L784.7 707.9 L785.6 707.9 L786.5 707.9 L787.4 707.9 L788.3 707.9 L789.2 707.9 L790.0 707.9 L790.9 707.9 L791.8 707.9 L792.7 707.9 L793.6 707.9 L794.5 707.9 L795.4 707.9 L796.3 707.9 L797.1 707.9 L798.0 707.9 L798.9 707.9 L799.8 707.9 L800.7 707.9 L800.7 1159.6Z" fill="#b2b2b2" />
<path d="M126.2 1159.6 L126.2 935.8 L127.1 935.8 L128.0 935.8 L128.9 935.8 L129.8 935.8 L130.6 935.8 L131.5 935.8 L132.4 935.8 L133.3 935.8 L134.2 935.8 L135.1 935.8 L136.0 935.8 L136.9 935.8 L137.7 935.8 L138.6 935.8 L139.5 935.8 L140.4 935.8 L141.3 935.8 L142.2 935.8 L143.1 935.8 L143.9 935.8 L144.8 935.8 L145.7 935.8 L146.6 935.8 L147.5 935.8 L148.4 935.8 L149.3 935.8 L150.2 935.8 L151.1 935.8 L151.9 935.8 L152.8 935.8 L153.7 935.8 L154.6 935.8 L155.5 935.8 L156.4 935.8 L157.3 935.8 L158.1 935.8 L159.0 935.8 L159.9 935.8 L160.8 935.8 L161.7 935.8 L162.6 935.8 L163.5 935.8 L164.4 935.8 L165.2 935.8 L166.1 935.8 L167.0 935.8 L167.9 935.8 L168.8 935.8 L169.7 935.8 L170.6 935.8 L171.5 935.8 L172.4 935.8 L173.2 935.8 L174.1 935.8 L175.0 935.8 L175.9 935.9 L176.8 935.9 L177.7 935.9 L178.6 935.9 L179.4 935.9 L180.3 935.9 L181.2 936.0 L182.1 936.0 L183.0 936.1 L183.9 936.1 L184.8 936.2 L185.7 936.3 L186.6 936.5 L187.4 936.6 L188.3 936.8 L189.2 937.1 L190.1 937.4 L191.0 937.8 L191.9 938.3 L192.8 938.9 L193.7 939.6 L194.5 940.4 L195.4 941.3 L196.3 942.4 L197.2 943.8 L198.1 945.3 L199.0 947.0 L199.9 949.0 L200.8 951.3 L201.6 953.8 L202.5 956.6 L203.4 959.8 L204.3 963.3 L205.2 967.1 L206.1 971.3 L207.0 975.9 L207.8 980.8 L208.7 986.0 L209.6 991.6 L210.5 997.4 L211.4 1003.6 L212.3 1010.0 L213.2 1016.7 L214.1 1023.5 L214.9 1030.5 L215.8 1037.7 L216.7 1044.8 L217.6 1052.0 L218.5 1059.2 L219.4 1066.3 L220.3 1073.3 L221.2 1080.1 L222.1 1086.7 L222.9 1093.1 L223.8 1099.2 L224.7 1105.0 L225.6 1110.5 L226.5 1115.7 L227.4 1120.5 L228.3 1125.0 L229.2 1129.1 L230.0 1132.9 L230.9 1136.3 L231.8 1139.4 L232.7 1142.2 L233.6 1144.7 L234.5 1146.8 L235.4 1148.8 L236.2 1150.5 L237.1 1152.0 L238.0 1153.2 L238.9 1154.3 L239.8 1155.2 L240.7 1156.0 L241.6 1156.7 L242.5 1157.2 L243.3 1157.7 L244.2 1158.1 L245.1 1158.4 L246.0 1158.6 L246.9 1158.8 L247.8 1159.0 L248.7 1159.1 L249.6 1159.2 L250.4 1159.3 L251.3 1159.4 L252.2 1159.4 L253.1 1159.5 L254.0 1159.5 L254.9 1159.5 L255.8 1159.6 L256.7 1159.6 L257.6 1159.6 L258.4 1159.6 L259.3 1159.6 L260.2 1159.6 L261.1 1159.6 L262.0 1159.6 L262.9 1159.6 L263.8 1159.6 L264.6 1159.6 L265.5 1159.6 L266.4 1159.6 L267.3 1159.6 L268.2 1159.6 L269.1 1159.6 L270.0 1159.6 L270.9 1159.6 L271.8 1159.6 L272.6 1159.6 L273.5 1159.6 L274.4 1159.6 L275.3 1159.6 L276.2 1159.6 L277.1 1159.6 L278.0 1159.6 L278.9 1159.6 L279.7 1159.6 L280.6 1159.6 L281.5 1159.6 L282.4 1159.6 L283.3 1159.6 L284.2 1159.6 L285.1 1159.6 L285.9 1159.6 L285.9 1159.6Z" fill="#8080ff" />
<path d="M521.4 1159.6 L521.4 937.4 L523.3 938.9 L525.3 940.2 L527.3 941.2 L529.2 942.0 L531.1 942.6 L533.1 943.0 L535.2 943.4 L537.3 943.8 L539.6 944.1 L541.9 944.4 L544.3 944.6 L546.8 944.7 L549.3 944.9 L551.7 945.0 L554.2 945.2 L556.8 945.3 L559.5 945.5 L562.0 945.6 L564.3 945.6 L566.2 945.5 L567.7 945.3 L568.8 945.1 L569.7 944.8 L570.4 944.5 L571.1 944.0 L572.0 943.4 L578.0 942.8 L579.1 942.5 L580.7 942.0 L582.4 941.6 L584.1 941.1 L585.6 940.7 L587.1 940.2 L588.6 939.8 L590.0 939.5 L591.3 939.2 L592.6 939.0 L593.8 938.8 L594.9 938.9 L596.0 939.2 L597.0 939.6 L598.0 940.2 L599.0 941.0 L600.1 941.9 L601.3 942.9 L602.5 944.1 L603.6 945.4 L604.5 946.8 L605.4 948.4 L606.2 950.2 L607.0 952.0 L607.8 954.2 L608.7 956.7 L609.5 959.0 L610.0 960.6 L610.0 1159.6Z" fill="#666666" />
<path d="M408.0 1159.6 L409.7 1157.7 L412.1 1155.0 L414.9 1151.7 L417.6 1148.2 L420.0 1144.5 L422.0 1140.7 L423.8 1136.6 L425.5 1132.3 L427.2 1127.7 L428.7 1122.9 L430.1 1117.7 L431.4 1112.3 L432.6 1106.6 L433.9 1100.7 L435.1 1094.7 L436.4 1088.5 L437.7 1082.0 L439.0 1075.5 L440.3 1068.9 L441.6 1062.3 L442.9 1055.7 L444.3 1049.0 L445.7 1042.3 L446.9 1035.9 L448.1 1029.8 L449.1 1024.2 L449.9 1019.1 L450.7 1014.1 L451.5 1009.1 L452.5 1003.9 L453.7 998.4 L454.9 992.8 L456.2 987.1 L457.6 981.4 L458.9 975.7 L460.2 969.8 L461.6 963.8 L462.9 957.8 L464.2 952.3 L465.4 947.6 L466.4 943.9 L467.4 941.0 L468.3 938.5 L469.1 936.3 L470.0 934.0 L470.8 931.7 L471.7 929.5 L472.5 927.5 L473.3 925.6 L474.1 923.8 L475.0 922.2 L475.8 920.7 L476.7 919.3 L477.6 918.1 L478.5 917.0 L479.3 916.1 L480.1 915.3 L480.9 914.7 L481.7 914.1 L482.7 913.6 L483.9 913.1 L485.2 912.7 L486.6 912.3 L488.0 912.0 L489.2 911.9 L490.3 911.9 L491.3 912.1 L492.2 912.3 L493.1 912.6 L494.0 913.0 L495.0 913.5 L496.0 914.0 L497.0 914.6 L497.9 915.1 L498.5 915.5 L501.2 915.7 L503.7 919.0 L506.2 922.1 L508.6 925.1 L511.0 927.9 L513.3 930.4 L515.4 932.7 L517.5 934.8 L519.5 936.7 L521.4 938.4 L526.0 945.4 L526.5 946.6 L527.3 948.2 L528.2 950.1 L529.1 952.1 L530.0 954.0 L530.9 955.8 L531.9 957.6 L532.8 959.5 L533.8 961.4 L534.7 963.5 L535.6 965.4 L536.4 967.2 L537.2 969.2 L538.0 971.9 L538.7 975.7 L539.4 980.9 L540.0 987.2 L540.6 994.2 L541.2 1001.4 L541.9 1008.2 L542.7 1014.8 L543.6 1021.5 L544.5 1028.1 L545.4 1034.5 L546.2 1040.6 L547.0 1046.6 L547.8 1052.7 L548.5 1058.4 L549.2 1063.2 L549.6 1066.6 L550.0 1159.6Z" fill="#2d2d2d" />
<path d="M549.6 1066.6 L550.1 1063.2 L550.9 1058.4 L551.8 1052.7 L552.7 1046.6 L553.8 1040.6 L555.0 1034.4 L556.2 1027.6 L557.6 1020.7 L559.0 1014.1 L560.3 1008.2 L561.6 1003.2 L562.8 998.7 L564.0 994.7 L565.4 990.7 L566.8 986.5 L568.4 982.1 L570.1 977.5 L571.9 973.1 L573.6 968.8 L575.4 964.9 L577.2 961.3 L579.1 957.9 L580.9 954.8 L582.6 952.0 L584.1 949.8 L585.3 948.2 L586.4 947.2 L587.3 946.5 L588.1 946.0 L589.0 945.5 L589.9 945.0 L590.8 944.6 L591.7 944.4 L592.6 944.2 L593.5 944.2 L594.4 944.3 L595.2 944.5 L596.1 944.8 L597.0 945.3 L598.0 946.0 L599.0 946.8 L600.1 947.7 L601.2 948.8 L602.4 950.2 L603.6 951.9 L604.8 953.9 L606.1 956.2 L607.4 958.7 L608.7 961.6 L610.0 964.9 L611.3 968.7 L612.7 972.9 L614.0 977.4 L615.3 982.0 L616.5 986.5 L617.5 990.8 L618.4 995.2 L619.2 999.5 L620.1 1003.9 L620.9 1008.2 L621.8 1012.6 L622.7 1017.2 L623.6 1021.7 L624.4 1026.0 L625.2 1029.8 L625.9 1033.1 L626.5 1036.0 L627.0 1038.7 L627.5 1041.3 L628.0 1044.0 L628.5 1047.0 L629.1 1050.3 L629.6 1053.4 L630.0 1056.1 L630.3 1058.0 L630.9 1071.7 L631.8 1075.6 L632.7 1079.6 L633.6 1083.5 L634.5 1087.4 L635.4 1091.2 L636.2 1095.1 L637.1 1098.8 L638.0 1102.5 L638.9 1106.1 L639.8 1109.5 L640.7 1112.9 L641.6 1116.1 L642.5 1119.2 L643.3 1122.2 L644.2 1125.1 L645.1 1127.8 L646.0 1130.3 L646.9 1132.7 L647.8 1135.0 L648.7 1137.2 L649.6 1139.2 L650.4 1141.0 L651.3 1142.8 L652.2 1144.4 L653.1 1145.9 L654.0 1147.2 L654.9 1148.5 L655.8 1149.7 L656.7 1150.7 L657.5 1151.7 L658.4 1152.6 L659.3 1153.4 L660.2 1154.1 L661.1 1154.7 L662.0 1155.3 L662.9 1155.8 L663.8 1156.3 L664.6 1156.7 L665.5 1157.1 L666.4 1157.4 L667.3 1157.7 L668.2 1158.0 L669.1 1158.2 L670.0 1158.4 L670.9 1158.5 L671.7 1158.7 L672.6 1158.8 L673.5 1158.9 L674.4 1159.0 L675.3 1159.1 L676.2 1159.2 L677.1 1159.3 L678.0 1159.3 L678.8 1159.4 L672.0 1159.6 L549.0 1159.6Z" fill="#313131" />
<path d="M388.9 1159.6 L388.9 1159.1 L389.8 1159.0 L390.7 1159.0 L391.6 1158.9 L392.4 1158.8 L393.3 1158.7 L394.2 1158.5 L395.1 1158.4 L396.0 1158.2 L396.9 1158.1 L397.8 1157.9 L398.7 1157.6 L399.6 1157.4 L400.4 1157.1 L401.3 1156.8 L402.2 1156.5 L403.1 1156.1 L404.0 1155.7 L404.9 1155.3 L405.8 1154.8 L406.6 1154.3 L407.5 1153.8 L408.4 1153.1 L409.3 1152.5 L410.2 1151.7 L411.1 1151.0 L412.0 1150.1 L412.9 1149.2 L413.8 1148.2 L414.6 1147.2 L415.5 1146.0 L416.4 1144.8 L417.3 1143.5 L418.2 1142.2 L419.1 1140.7 L420.0 1139.1 L420.8 1137.5 L421.7 1135.8 L422.6 1133.9 L423.5 1132.0 L424.4 1130.0 L425.3 1127.9 L426.2 1125.6 L427.1 1123.3 L427.9 1120.9 L428.8 1118.4 L429.7 1115.7 L430.6 1113.0 L431.5 1110.2 L432.4 1107.3 L433.3 1104.3 L434.2 1101.2 L435.1 1098.0 L435.9 1094.8 L436.8 1091.4 L437.7 1088.0 L438.6 1084.6 L439.5 1081.0 L440.4 1077.5 L441.3 1073.8 L442.1 1070.2 L443.0 1066.5 L443.9 1062.8 L444.8 1059.1 L445.7 1055.3 L446.6 1051.6 L447.5 1047.9 L448.4 1044.2 L449.2 1040.5 L450.1 1036.9 L451.0 1033.4 L451.9 1029.9 L452.8 1026.5 L453.7 1023.2 L454.6 1020.0 L455.5 1016.9 L456.3 1014.0 L457.2 1011.2 L458.1 1008.5 L459.0 1006.0 L459.9 1003.7 L460.8 1001.6 L461.7 999.7 L462.6 998.0 L463.4 996.6 L464.3 995.3 L465.2 994.4 L466.1 993.6 L467.0 993.2 L467.9 992.9 L468.8 993.0 L469.7 993.3 L470.6 993.9 L471.4 994.8 L472.3 995.9 L473.2 997.4 L474.1 999.0 L475.0 1001.0 L475.9 1003.2 L476.8 1005.6 L477.6 1008.3 L478.5 1011.2 L479.4 1014.3 L480.3 1017.6 L481.2 1021.2 L482.1 1024.9 L483.0 1028.7 L483.9 1032.7 L484.8 1036.9 L485.6 1041.1 L486.5 1045.5 L487.4 1049.9 L488.3 1054.3 L489.2 1058.8 L490.1 1063.3 L491.0 1067.8 L491.8 1072.3 L492.7 1076.8 L493.6 1081.2 L494.5 1085.5 L495.4 1089.7 L496.3 1093.9 L497.2 1097.9 L498.1 1101.8 L498.9 1105.6 L499.8 1109.3 L500.7 1112.8 L501.6 1116.2 L502.5 1119.4 L503.4 1122.5 L504.3 1125.4 L505.2 1128.1 L506.0 1130.7 L506.9 1133.2 L507.8 1135.5 L508.7 1137.6 L509.6 1139.6 L510.5 1141.5 L511.4 1143.2 L512.3 1144.8 L513.1 1146.3 L514.0 1147.7 L514.9 1148.9 L515.8 1150.0 L516.7 1151.1 L517.6 1152.0 L518.5 1152.9 L519.4 1153.7 L520.2 1154.3 L521.1 1155.0 L522.0 1155.5 L522.9 1156.0 L523.8 1156.5 L524.7 1156.9 L525.6 1157.2 L526.5 1157.5 L527.4 1157.8 L528.2 1158.1 L529.1 1158.3 L530.0 1158.5 L530.9 1158.6 L530.9 1159.6Z" fill="#7dc228" />
<path d="M538.0 1159.6 L538.0 1159.3 L538.9 1159.2 L539.8 1159.2 L540.7 1159.1 L541.5 1159.0 L542.4 1159.0 L543.3 1158.9 L544.2 1158.8 L545.1 1158.7 L546.0 1158.5 L546.9 1158.4 L547.8 1158.2 L548.6 1158.1 L549.5 1157.9 L550.4 1157.7 L551.3 1157.4 L552.2 1157.2 L553.1 1156.9 L554.0 1156.6 L554.9 1156.2 L555.8 1155.8 L556.6 1155.4 L557.5 1155.0 L558.4 1154.5 L559.3 1153.9 L560.2 1153.3 L561.1 1152.7 L562.0 1152.0 L562.9 1151.2 L563.7 1150.4 L564.6 1149.6 L565.5 1148.6 L566.4 1147.6 L567.3 1146.5 L568.2 1145.4 L569.1 1144.2 L570.0 1142.8 L570.8 1141.5 L571.7 1140.0 L572.6 1138.4 L573.5 1136.8 L574.4 1135.0 L575.3 1133.2 L576.2 1131.3 L577.0 1129.2 L577.9 1127.1 L578.8 1124.9 L579.7 1122.6 L580.6 1120.2 L581.5 1117.8 L582.4 1115.2 L583.3 1112.6 L584.1 1109.9 L585.0 1107.1 L585.9 1104.2 L586.8 1101.3 L587.7 1098.3 L588.6 1095.2 L589.5 1092.2 L590.4 1089.0 L591.2 1085.9 L592.1 1082.7 L593.0 1079.6 L593.9 1076.4 L594.8 1073.2 L595.7 1070.1 L596.6 1067.0 L597.5 1063.9 L598.4 1060.9 L599.2 1057.9 L600.1 1055.1 L601.0 1052.3 L601.9 1049.6 L602.8 1047.0 L603.7 1044.5 L604.6 1042.2 L605.5 1040.0 L606.3 1038.0 L607.2 1036.1 L608.1 1034.4 L609.0 1032.9 L609.9 1031.6 L610.8 1030.4 L611.7 1029.5 L612.5 1028.7 L613.4 1028.1 L614.3 1027.8 L615.2 1027.6 L616.1 1027.7 L617.0 1028.1 L617.9 1028.9 L618.8 1029.9 L619.6 1031.2 L620.5 1032.9 L621.4 1034.8 L622.3 1036.9 L623.2 1039.4 L624.1 1042.0 L625.0 1044.9 L625.9 1048.0 L626.8 1051.2 L627.6 1054.6 L628.5 1058.2 L629.4 1061.8 L630.3 1065.6 L631.2 1069.4 L632.1 1073.3 L633.0 1077.2 L633.8 1081.1 L634.7 1085.0 L635.6 1088.9 L636.5 1092.8 L637.4 1096.6 L638.3 1100.3 L639.2 1103.9 L640.1 1107.5 L641.0 1110.9 L641.8 1114.2 L642.7 1117.4 L643.6 1120.4 L644.5 1123.4 L645.4 1126.2 L646.3 1128.8 L647.2 1131.3 L648.0 1133.7 L648.9 1135.9 L649.8 1138.0 L650.7 1139.9 L651.6 1141.7 L652.5 1143.4 L653.4 1145.0 L654.3 1146.4 L655.1 1147.8 L656.0 1149.0 L656.9 1150.1 L657.8 1151.1 L658.7 1152.1 L659.6 1152.9 L660.5 1153.7 L661.4 1154.3 L662.2 1155.0 L663.1 1155.5 L664.0 1156.0 L664.9 1156.5 L665.8 1156.9 L666.7 1157.2 L667.6 1157.5 L668.5 1157.8 L669.3 1158.0 L670.2 1158.3 L671.1 1158.4 L672.0 1158.6 L672.9 1158.7 L673.8 1158.9 L674.7 1159.0 L675.6 1159.1 L676.5 1159.2 L677.3 1159.2 L678.2 1159.3 L679.1 1159.3 L680.0 1159.4 L680.0 1159.6Z" fill="#7dc228" />
<path d="M424.4 1159.6 L424.4 1158.4 L425.3 1158.3 L426.2 1158.2 L427.1 1158.0 L427.9 1157.8 L428.8 1157.7 L429.7 1157.5 L430.6 1157.2 L431.5 1157.0 L432.4 1156.7 L433.3 1156.4 L434.2 1156.1 L435.1 1155.8 L435.9 1155.4 L436.8 1155.0 L437.7 1154.6 L438.6 1154.1 L439.5 1153.6 L440.4 1153.1 L441.3 1152.5 L442.1 1151.9 L443.0 1151.2 L443.9 1150.5 L444.8 1149.7 L445.7 1148.9 L446.6 1148.0 L447.5 1147.0 L448.4 1146.0 L449.2 1145.0 L450.1 1143.8 L451.0 1142.6 L451.9 1141.3 L452.8 1140.0 L453.7 1138.6 L454.6 1137.0 L455.5 1135.5 L456.3 1133.8 L457.2 1132.0 L458.1 1130.2 L459.0 1128.2 L459.9 1126.2 L460.8 1124.0 L461.7 1121.8 L462.6 1119.5 L463.4 1117.1 L464.3 1114.6 L465.2 1112.0 L466.1 1109.2 L467.0 1106.4 L467.9 1103.5 L468.8 1100.5 L469.7 1097.5 L470.6 1094.3 L471.4 1091.0 L472.3 1087.7 L473.2 1084.2 L474.1 1080.7 L475.0 1077.1 L475.9 1073.5 L476.8 1069.8 L477.6 1066.0 L478.5 1062.1 L479.4 1058.3 L480.3 1054.3 L481.2 1050.4 L482.1 1046.4 L483.0 1042.4 L483.9 1038.4 L484.8 1034.4 L485.6 1030.4 L486.5 1026.4 L487.4 1022.4 L488.3 1018.5 L489.2 1014.6 L490.1 1010.8 L491.0 1007.0 L491.8 1003.3 L492.7 999.7 L493.6 996.2 L494.5 992.8 L495.4 989.5 L496.3 986.3 L497.2 983.2 L498.1 980.3 L498.9 977.6 L499.8 975.0 L500.7 972.5 L501.6 970.3 L502.5 968.2 L503.4 966.3 L504.3 964.6 L505.2 963.1 L506.0 961.8 L506.9 960.7 L507.8 959.8 L508.7 959.1 L509.6 958.7 L510.5 958.5 L511.4 958.4 L512.3 958.6 L513.1 958.9 L514.0 959.4 L514.9 960.1 L515.8 961.0 L516.7 962.0 L517.6 963.2 L518.5 964.6 L519.4 966.1 L520.2 967.8 L521.1 969.7 L522.0 971.7 L522.9 973.8 L523.8 976.1 L524.7 978.5 L525.6 981.0 L526.5 983.7 L527.4 986.4 L528.2 989.3 L529.1 992.3 L530.0 995.3 L530.9 998.5 L531.8 1001.7 L532.7 1005.0 L533.6 1008.4 L534.5 1011.8 L535.3 1015.3 L536.2 1018.8 L537.1 1022.4 L538.0 1026.0 L538.9 1029.6 L539.8 1033.2 L540.7 1036.8 L541.5 1040.5 L542.4 1044.1 L543.3 1047.7 L544.2 1051.3 L545.1 1054.9 L546.0 1058.4 L546.9 1062.0 L547.8 1065.4 L548.6 1068.9 L549.5 1072.2 L550.4 1075.6 L551.3 1078.8 L552.2 1082.1 L553.1 1085.2 L554.0 1088.3 L554.9 1091.3 L555.8 1094.3 L556.6 1097.2 L557.5 1100.0 L558.4 1102.7 L559.3 1105.4 L560.2 1107.9 L561.1 1110.4 L562.0 1112.8 L562.9 1115.2 L563.7 1117.4 L564.6 1119.6 L565.5 1121.7 L566.4 1123.7 L567.3 1125.7 L568.2 1127.5 L569.1 1129.3 L570.0 1131.1 L570.8 1132.7 L571.7 1134.3 L572.6 1135.8 L573.5 1137.2 L574.4 1138.6 L575.3 1139.9 L576.2 1141.1 L577.0 1142.3 L577.9 1143.4 L578.8 1144.4 L579.7 1145.4 L580.6 1146.4 L581.5 1147.3 L582.4 1148.1 L583.3 1148.9 L584.1 1149.7 L585.0 1150.4 L585.9 1151.0 L586.8 1151.6 L587.7 1152.2 L588.6 1152.8 L589.5 1153.3 L590.4 1153.8 L591.2 1154.2 L592.1 1154.6 L593.0 1155.0 L593.9 1155.4 L594.8 1155.7 L595.7 1156.0 L596.6 1156.3 L597.5 1156.6 L598.4 1156.8 L599.2 1157.1 L600.1 1157.3 L601.0 1157.5 L601.9 1157.7 L602.8 1157.8 L603.7 1158.0 L604.6 1158.1 L605.5 1158.3 L606.3 1158.4 L607.2 1158.5 L608.1 1158.6 L609.0 1158.7 L609.0 1159.6Z" fill="rgba(0,138,60,0.78)" />
<path d="M495.4 1159.6 L495.4 1158.8 L496.3 1158.7 L497.2 1158.6 L498.1 1158.5 L498.9 1158.3 L499.8 1158.2 L500.7 1158.0 L501.6 1157.8 L502.5 1157.6 L503.4 1157.4 L504.3 1157.2 L505.2 1156.9 L506.0 1156.6 L506.9 1156.3 L507.8 1155.9 L508.7 1155.5 L509.6 1155.1 L510.5 1154.7 L511.4 1154.2 L512.3 1153.6 L513.1 1153.1 L514.0 1152.4 L514.9 1151.7 L515.8 1151.0 L516.7 1150.2 L517.6 1149.4 L518.5 1148.5 L519.4 1147.5 L520.2 1146.5 L521.1 1145.4 L522.0 1144.2 L522.9 1143.0 L523.8 1141.6 L524.7 1140.2 L525.6 1138.8 L526.5 1137.2 L527.4 1135.5 L528.2 1133.8 L529.1 1131.9 L530.0 1130.0 L530.9 1128.0 L531.8 1125.8 L532.7 1123.6 L533.6 1121.3 L534.5 1118.9 L535.3 1116.4 L536.2 1113.8 L537.1 1111.1 L538.0 1108.3 L538.9 1105.4 L539.8 1102.5 L540.7 1099.4 L541.5 1096.3 L542.4 1093.1 L543.3 1089.8 L544.2 1086.5 L545.1 1083.1 L546.0 1079.7 L546.9 1076.2 L547.8 1072.7 L548.6 1069.1 L549.5 1065.6 L550.4 1062.0 L551.3 1058.4 L552.2 1054.8 L553.1 1051.2 L554.0 1047.7 L554.9 1044.2 L555.8 1040.7 L556.6 1037.3 L557.5 1034.0 L558.4 1030.7 L559.3 1027.6 L560.2 1024.5 L561.1 1021.5 L562.0 1018.7 L562.9 1016.0 L563.7 1013.4 L564.6 1011.0 L565.5 1008.8 L566.4 1006.7 L567.3 1004.7 L568.2 1003.0 L569.1 1001.5 L570.0 1000.1 L570.8 998.9 L571.7 998.0 L572.6 997.3 L573.5 996.7 L574.4 996.4 L575.3 996.3 L576.2 996.4 L577.0 996.6 L577.9 997.0 L578.8 997.5 L579.7 998.2 L580.6 999.1 L581.5 1000.1 L582.4 1001.2 L583.3 1002.5 L584.1 1003.9 L585.0 1005.4 L585.9 1007.1 L586.8 1008.9 L587.7 1010.8 L588.6 1012.9 L589.5 1015.0 L590.4 1017.3 L591.2 1019.6 L592.1 1022.1 L593.0 1024.6 L593.9 1027.2 L594.8 1029.9 L595.7 1032.7 L596.6 1035.5 L597.5 1038.3 L598.4 1041.2 L599.2 1044.2 L600.1 1047.2 L601.0 1050.2 L601.9 1053.2 L602.8 1056.3 L603.7 1059.3 L604.6 1062.4 L605.5 1065.4 L606.3 1068.5 L607.2 1071.5 L608.1 1074.5 L609.0 1077.5 L609.9 1080.5 L610.8 1083.4 L611.7 1086.3 L612.5 1089.1 L613.4 1091.9 L614.3 1094.7 L615.2 1097.4 L616.1 1100.0 L617.0 1102.6 L617.9 1105.1 L618.8 1107.6 L619.6 1110.0 L620.5 1112.3 L621.4 1114.6 L622.3 1116.7 L623.2 1118.9 L624.1 1120.9 L625.0 1122.9 L625.9 1124.9 L626.8 1126.7 L627.6 1128.5 L628.5 1130.2 L629.4 1131.8 L630.3 1133.4 L631.2 1134.9 L632.1 1136.4 L633.0 1137.8 L633.8 1139.1 L634.7 1140.3 L635.6 1141.5 L636.5 1142.7 L637.4 1143.8 L638.3 1144.8 L639.2 1145.8 L640.1 1146.7 L641.0 1147.6 L641.8 1148.4 L642.7 1149.2 L643.6 1149.9 L644.5 1150.6 L645.4 1151.2 L646.3 1151.9 L647.2 1152.4 L648.0 1153.0 L648.9 1153.5 L649.8 1153.9 L650.7 1154.4 L651.6 1154.8 L652.5 1155.2 L653.4 1155.5 L654.3 1155.8 L655.1 1156.2 L656.0 1156.4 L656.9 1156.7 L657.8 1156.9 L658.7 1157.2 L659.6 1157.4 L660.5 1157.6 L661.4 1157.8 L662.2 1157.9 L663.1 1158.1 L664.0 1158.2 L664.9 1158.3 L665.8 1158.4 L665.8 1159.6Z" fill="rgba(0,138,60,0.78)" />
<path d="M495.4 1159.6 L495.4 1159.5 L496.3 1159.5 L497.2 1159.5 L498.1 1159.4 L498.9 1159.4 L499.8 1159.3 L500.7 1159.3 L501.6 1159.2 L502.5 1159.1 L503.4 1159.0 L504.3 1158.8 L505.2 1158.6 L506.0 1158.4 L506.9 1158.2 L507.8 1157.9 L508.7 1157.5 L509.6 1157.1 L510.5 1156.6 L511.4 1156.0 L512.3 1155.4 L513.1 1154.6 L514.0 1153.8 L514.9 1152.9 L515.8 1151.8 L516.7 1150.7 L517.6 1149.4 L518.5 1148.0 L519.4 1146.5 L520.2 1144.9 L521.1 1143.1 L522.0 1141.3 L522.9 1139.3 L523.8 1137.3 L524.7 1135.2 L525.6 1133.0 L526.5 1130.8 L527.4 1128.6 L528.2 1126.4 L529.1 1124.2 L530.0 1122.1 L530.9 1120.1 L531.8 1118.2 L532.7 1116.4 L533.6 1114.8 L534.5 1113.4 L535.3 1112.2 L536.2 1111.3 L537.1 1110.6 L538.0 1110.1 L538.9 1109.9 L539.8 1110.0 L540.7 1110.4 L541.5 1111.0 L542.4 1111.8 L543.3 1112.9 L544.2 1114.2 L545.1 1115.8 L546.0 1117.5 L546.9 1119.3 L547.8 1121.3 L548.6 1123.4 L549.5 1125.5 L550.4 1127.7 L551.3 1129.9 L552.2 1132.1 L553.1 1134.3 L554.0 1136.4 L554.9 1138.5 L555.8 1140.5 L556.6 1142.4 L557.5 1144.2 L558.4 1145.9 L559.3 1147.4 L560.2 1148.9 L561.1 1150.2 L562.0 1151.4 L562.9 1152.5 L563.7 1153.5 L564.6 1154.3 L565.5 1155.1 L566.4 1155.8 L567.3 1156.4 L568.2 1156.9 L569.1 1157.3 L570.0 1157.7 L570.8 1158.0 L571.7 1158.3 L572.6 1158.6 L573.5 1158.8 L574.4 1158.9 L575.3 1159.0 L576.2 1159.2 L577.0 1159.2 L577.9 1159.3 L578.8 1159.4 L579.7 1159.4 L580.6 1159.5 L581.5 1159.5 L582.4 1159.5 L583.3 1159.5 L584.1 1159.6 L584.1 1159.6Z" fill="#e1f00f" />
<path d="M396.0 1158.2 L396.9 1158.1 L397.8 1157.9 L398.7 1157.6 L399.6 1157.4 L400.4 1157.1 L401.3 1156.8 L402.2 1156.5 L403.1 1156.2 L404.0 1155.8 L404.9 1155.3 L405.8 1154.9 L406.6 1154.3 L407.5 1153.8 L408.4 1153.2 L409.3 1152.5 L410.2 1151.8 L411.1 1151.0 L412.0 1150.2 L412.9 1149.3 L413.8 1148.3 L414.6 1147.3 L415.5 1146.2 L416.4 1145.0 L417.3 1143.8 L418.2 1142.5 L419.1 1141.1 L420.0 1139.6 L420.8 1138.0 L421.7 1136.4 L422.6 1134.6 L423.5 1132.8 L424.4 1130.9 L425.3 1129.0 L426.2 1126.9 L427.1 1124.8 L427.9 1122.6 L428.8 1120.3 L429.7 1117.9 L430.6 1115.5 L431.5 1113.1 L432.4 1110.5 L433.3 1108.0 L434.2 1105.4 L435.1 1102.7 L435.9 1100.1 L436.8 1097.4 L437.7 1094.7 L438.6 1092.0 L439.5 1089.3 L440.4 1086.7 L441.3 1084.0 L442.1 1081.4 L443.0 1078.9 L443.9 1076.4 L444.8 1074.0 L445.7 1071.7 L446.6 1069.5 L447.5 1067.4 L448.4 1065.4 L449.2 1063.5 L450.1 1061.8 L451.0 1060.2 L451.9 1058.7 L452.8 1057.4 L453.7 1056.3 L454.6 1055.3 L455.5 1054.5 L456.3 1053.9 L457.2 1053.4 L458.1 1053.2 L459.0 1053.1 L459.9 1053.2 L460.8 1053.5 L461.7 1054.0 L462.6 1054.7 L463.4 1055.6 L464.3 1056.6 L465.2 1057.8 L466.1 1059.2 L467.0 1060.8 L467.9 1062.5 L468.8 1064.3 L469.7 1066.3 L470.6 1068.4 L471.4 1070.6 L472.3 1072.9 L473.2 1075.3 L474.1 1077.7 L475.0 1080.3 L475.9 1082.9 L476.8 1085.6 L477.6 1088.2 L478.5 1091.0 L479.4 1093.7 L480.3 1096.4 L481.2 1099.2 L482.1 1101.9 L483.0 1104.6 L483.9 1107.2 L484.8 1109.9 L485.6 1112.4 L486.5 1115.0 L487.4 1117.4 L488.3 1119.8 L489.2 1122.2 L490.1 1124.4 L491.0 1126.6 L491.8 1128.7 L492.7 1130.7 L493.6 1132.6 L494.5 1134.5 L495.4 1136.3 L496.3 1137.9 L497.2 1139.5 L498.1 1141.0 L498.9 1142.5 L499.8 1143.8 L500.7 1145.1 L501.6 1146.3 L502.5 1147.4 L503.4 1148.4 L504.3 1149.4 L505.2 1150.3 L506.0 1151.1 L506.9 1151.9 L507.8 1152.6 L508.7 1153.3 L509.6 1153.9 L510.5 1154.5 L511.4 1155.0 L512.3 1155.4 L513.1 1155.9 L514.0 1156.3 L514.9 1156.6" fill="none" stroke="#00ffff" stroke-width="2.4" stroke-dasharray="3.5 1.0"/>
<path d="M424.4 1158.7 L425.3 1158.5 L426.2 1158.3 L427.1 1158.1 L427.9 1157.9 L428.8 1157.7 L429.7 1157.4 L430.6 1157.1 L431.5 1156.7 L432.4 1156.3 L433.3 1155.9 L434.2 1155.4 L435.1 1154.9 L435.9 1154.3 L436.8 1153.7 L437.7 1152.9 L438.6 1152.2 L439.5 1151.3 L440.4 1150.4 L441.3 1149.4 L442.1 1148.3 L443.0 1147.2 L443.9 1145.9 L444.8 1144.6 L445.7 1143.2 L446.6 1141.7 L447.5 1140.1 L448.4 1138.4 L449.2 1136.6 L450.1 1134.8 L451.0 1132.8 L451.9 1130.8 L452.8 1128.7 L453.7 1126.6 L454.6 1124.3 L455.5 1122.1 L456.3 1119.7 L457.2 1117.3 L458.1 1114.9 L459.0 1112.5 L459.9 1110.1 L460.8 1107.7 L461.7 1105.3 L462.6 1102.9 L463.4 1100.6 L464.3 1098.3 L465.2 1096.1 L466.1 1094.0 L467.0 1092.0 L467.9 1090.1 L468.8 1088.3 L469.7 1086.7 L470.6 1085.2 L471.4 1083.8 L472.3 1082.7 L473.2 1081.7 L474.1 1080.9 L475.0 1080.3 L475.9 1079.9 L476.8 1079.6 L477.6 1079.6 L478.5 1079.8 L479.4 1080.2 L480.3 1080.8 L481.2 1081.6 L482.1 1082.6 L483.0 1083.7 L483.9 1085.1 L484.8 1086.6 L485.6 1088.3 L486.5 1090.1 L487.4 1092.0 L488.3 1094.1 L489.2 1096.3 L490.1 1098.5 L491.0 1100.8 L491.8 1103.2 L492.7 1105.7 L493.6 1108.1 L494.5 1110.6 L495.4 1113.1 L496.3 1115.5 L497.2 1118.0 L498.1 1120.4 L498.9 1122.7 L499.8 1125.1 L500.7 1127.3 L501.6 1129.5 L502.5 1131.6 L503.4 1133.6 L504.3 1135.6 L505.2 1137.4 L506.0 1139.2 L506.9 1140.9 L507.8 1142.5 L508.7 1143.9 L509.6 1145.3 L510.5 1146.6 L511.4 1147.9 L512.3 1149.0 L513.1 1150.0 L514.0 1151.0 L514.9 1151.9 L515.8 1152.7 L516.7 1153.5 L517.6 1154.1 L518.5 1154.7 L519.4 1155.3 L520.2 1155.8 L521.1 1156.3 L522.0 1156.7 L522.9 1157.0 L523.8 1157.4 L524.7 1157.6 L525.6 1157.9 L526.5 1158.1 L527.4 1158.3 L528.2 1158.5 L529.1 1158.7 L530.0 1158.8 L530.9 1158.9" fill="none" stroke="#00ff00" stroke-width="2.4" stroke-dasharray="3.5 1.0"/>
<path d="M530.9 1159.4 L531.8 1159.3 L532.7 1159.3 L533.6 1159.3 L534.5 1159.2 L535.3 1159.2 L536.2 1159.1 L537.1 1159.1 L538.0 1159.0 L538.9 1158.9 L539.8 1158.8 L540.7 1158.7 L541.5 1158.6 L542.4 1158.5 L543.3 1158.4 L544.2 1158.3 L545.1 1158.1 L546.0 1157.9 L546.9 1157.8 L547.8 1157.6 L548.6 1157.4 L549.5 1157.1 L550.4 1156.9 L551.3 1156.6 L552.2 1156.3 L553.1 1156.0 L554.0 1155.6 L554.9 1155.3 L555.8 1154.9 L556.6 1154.5 L557.5 1154.0 L558.4 1153.6 L559.3 1153.0 L560.2 1152.5 L561.1 1151.9 L562.0 1151.3 L562.9 1150.7 L563.7 1150.1 L564.6 1149.4 L565.5 1148.6 L566.4 1147.9 L567.3 1147.1 L568.2 1146.2 L569.1 1145.4 L570.0 1144.5 L570.8 1143.6 L571.7 1142.6 L572.6 1141.7 L573.5 1140.7 L574.4 1139.6 L575.3 1138.6 L576.2 1137.5 L577.0 1136.5 L577.9 1135.4 L578.8 1134.3 L579.7 1133.2 L580.6 1132.0 L581.5 1130.9 L582.4 1129.8 L583.3 1128.7 L584.1 1127.6 L585.0 1126.6 L585.9 1125.5 L586.8 1124.5 L587.7 1123.5 L588.6 1122.5 L589.5 1121.6 L590.4 1120.7 L591.2 1119.8 L592.1 1119.0 L593.0 1118.3 L593.9 1117.6 L594.8 1116.9 L595.7 1116.4 L596.6 1115.8 L597.5 1115.4 L598.4 1115.0 L599.2 1114.7 L600.1 1114.5 L601.0 1114.3 L601.9 1114.2 L602.8 1114.2 L603.7 1114.2 L604.6 1114.4 L605.5 1114.6 L606.3 1114.9 L607.2 1115.3 L608.1 1115.7 L609.0 1116.2 L609.9 1116.8 L610.8 1117.5 L611.7 1118.2 L612.5 1119.0 L613.4 1119.9 L614.3 1120.8 L615.2 1121.7 L616.1 1122.7 L617.0 1123.7 L617.9 1124.8 L618.8 1125.9 L619.6 1127.0 L620.5 1128.1 L621.4 1129.3 L622.3 1130.4 L623.2 1131.6 L624.1 1132.7 L625.0 1133.9 L625.9 1135.1 L626.8 1136.2 L627.6 1137.4 L628.5 1138.5 L629.4 1139.6 L630.3 1140.6 L631.2 1141.7 L632.1 1142.7 L633.0 1143.7 L633.8 1144.7 L634.7 1145.6 L635.6 1146.5 L636.5 1147.3 L637.4 1148.2 L638.3 1149.0 L639.2 1149.7 L640.1 1150.4 L641.0 1151.1 L641.8 1151.7 L642.7 1152.3 L643.6 1152.9 L644.5 1153.5 L645.4 1154.0 L646.3 1154.4 L647.2 1154.9 L648.0 1155.3 L648.9 1155.7 L649.8 1156.0 L650.7 1156.3 L651.6 1156.7 L652.5 1156.9 L653.4 1157.2 L654.3 1157.4 L655.1 1157.6 L656.0 1157.8 L656.9 1158.0 L657.8 1158.2 L658.7 1158.3 L659.6 1158.5 L660.5 1158.6 L661.4 1158.7 L662.2 1158.8 L663.1 1158.9 L664.0 1159.0 L664.9 1159.1 L665.8 1159.1" fill="none" stroke="#00ff00" stroke-width="2.4" stroke-dasharray="3.5 1.0"/>
<path d="M571.7 1157.0 L572.6 1156.7 L573.5 1156.2 L574.4 1155.7 L575.3 1155.2 L576.2 1154.6 L577.0 1153.9 L577.9 1153.1 L578.8 1152.3 L579.7 1151.4 L580.6 1150.4 L581.5 1149.3 L582.4 1148.0 L583.3 1146.7 L584.1 1145.3 L585.0 1143.8 L585.9 1142.2 L586.8 1140.4 L587.7 1138.5 L588.6 1136.5 L589.5 1134.4 L590.4 1132.2 L591.2 1129.9 L592.1 1127.4 L593.0 1124.9 L593.9 1122.3 L594.8 1119.5 L595.7 1116.7 L596.6 1113.9 L597.5 1110.9 L598.4 1108.0 L599.2 1105.0 L600.1 1102.0 L601.0 1099.0 L601.9 1096.0 L602.8 1093.1 L603.7 1090.2 L604.6 1087.5 L605.5 1084.8 L606.3 1082.2 L607.2 1079.8 L608.1 1077.5 L609.0 1075.4 L609.9 1073.5 L610.8 1071.8 L611.7 1070.3 L612.5 1069.1 L613.4 1068.1 L614.3 1067.3 L615.2 1066.8 L616.1 1066.6 L617.0 1066.6 L617.9 1066.9 L618.8 1067.5 L619.6 1068.3 L620.5 1069.3 L621.4 1070.6 L622.3 1072.1 L623.2 1073.9 L624.1 1075.8 L625.0 1078.0 L625.9 1080.3 L626.8 1082.7 L627.6 1085.3 L628.5 1088.0 L629.4 1090.8 L630.3 1093.7 L631.2 1096.6 L632.1 1099.6 L633.0 1102.6 L633.8 1105.6 L634.7 1108.6 L635.6 1111.5 L636.5 1114.4 L637.4 1117.3 L638.3 1120.1 L639.2 1122.8 L640.1 1125.4 L641.0 1127.9 L641.8 1130.4 L642.7 1132.7 L643.6 1134.9 L644.5 1137.0 L645.4 1138.9 L646.3 1140.8 L647.2 1142.5 L648.0 1144.1 L648.9 1145.6 L649.8 1147.0 L650.7 1148.3 L651.6 1149.5 L652.5 1150.6 L653.4 1151.6 L654.3 1152.5 L655.1 1153.3 L656.0 1154.0 L656.9 1154.7 L657.8 1155.3 L658.7 1155.8 L659.6 1156.3 L660.5 1156.7 L661.4 1157.1 L662.2 1157.4 L663.1 1157.7 L664.0 1158.0 L664.9 1158.2 L665.8 1158.4" fill="none" stroke="#00ffff" stroke-width="2.4" stroke-dasharray="3.5 1.0"/>
<path d="M127.3 936.4 H170 L184 935.6" stroke="#000080" stroke-width="2" fill="none"/>
<path d="M127.2 933.8 L129.7 933.8 L133.0 933.8 L137.0 933.7 L141.4 933.7 L145.8 933.6 L150.0 933.6 L154.3 933.6 L158.8 933.5 L163.5 933.5 L168.0 933.4 L172.0 933.4 L175.3 933.3 L177.8 933.2 L179.7 933.2 L181.1 933.1 L182.2 933.0 L183.3 932.9 L184.6 932.7 L185.9 932.5 L187.2 932.2 L188.4 932.0 L189.6 931.6 L190.8 931.3 L192.0 931.0 L193.3 930.7 L194.5 930.3 L195.8 930.0 L197.2 929.6 L198.5 929.2 L200.0 928.8 L201.6 928.3 L203.2 927.8 L204.9 927.3 L206.7 926.7 L208.4 926.2 L210.0 925.6 L211.5 925.1 L212.9 924.6 L214.3 924.1 L215.7 923.6 L217.3 922.9 L219.2 922.1 L221.5 921.0 L224.0 919.7 L226.8 918.3 L229.5 916.9 L232.2 915.6 L234.6 914.4 L236.8 913.4 L238.9 912.5 L240.8 911.7 L242.7 911.0 L244.5 910.3 L246.2 909.6 L247.7 909.0 L248.8 908.5 L249.9 908.0 L251.1 907.5 L252.6 906.9 L254.6 906.1 L257.2 905.1 L260.4 903.9 L263.8 902.6 L267.3 901.3 L270.7 900.0 L273.8 898.9 L276.5 897.9 L279.0 897.1 L281.4 896.3 L283.6 895.5 L285.9 894.8 L288.3 894.1 L290.7 893.5 L293.2 892.9 L295.7 892.4 L298.1 891.9 L300.5 891.3 L302.7 890.8 L304.8 890.3 L306.7 889.8 L308.5 889.4 L310.4 888.8 L312.3 888.2 L314.4 887.3 L316.6 886.2 L319.0 884.8 L321.4 883.3 L323.9 881.8 L326.4 880.3 L328.8 878.9 L331.2 877.6 L333.6 876.4 L336.1 875.1 L338.5 874.0 L340.9 872.8 L343.3 871.7 L345.7 870.6 L348.1 869.6 L350.5 868.6 L352.9 867.6 L355.3 866.6 L357.7 865.7 L360.2 864.7 L362.7 863.8 L365.2 862.8 L367.7 861.9 L370.0 861.1 L372.1 860.4 L373.9 859.9 L375.5 859.4 L376.9 859.1 L378.3 858.9 L379.9 858.7 L381.7 858.5 L383.9 858.4 L386.4 858.4 L388.9 858.4 L391.5 858.4 L394.0 858.5 L396.2 858.5 L398.1 858.5 L399.8 858.6 L401.3 858.6 L402.8 858.6 L404.3 858.6 L405.8 858.5 L407.3 858.3 L408.8 858.1 L410.3 857.9 L411.8 857.5 L413.5 857.1 L415.4 856.5 L417.6 855.7 L420.0 854.8 L422.6 853.7 L425.2 852.6 L427.6 851.6 L429.8 850.8 L431.7 850.2 L433.4 849.7 L435.1 849.2 L436.6 848.9 L438.0 848.6 L439.4 848.4 L440.7 848.2 L442.0 848.1 L443.1 848.1 L444.3 848.1 L445.4 848.2 L446.6 848.4 L447.8 848.6 L448.9 848.8 L450.0 849.1 L451.2 849.5 L452.5 850.1 L453.8 850.8 L455.3 851.7 L456.9 852.8 L458.5 854.0 L460.2 855.4 L461.9 856.9 L463.5 858.5 L465.1 860.2 L466.6 862.0 L468.2 863.9 L469.8 865.9 L471.4 868.1 L473.1 870.5 L474.8 873.1 L476.6 875.9 L478.5 878.8 L480.3 881.9 L482.3 885.2 L484.4 888.5 L486.6 892.1 L489.0 895.9 L491.4 899.9 L493.9 903.9 L496.4 907.7 L498.8 911.3 L501.2 914.7 L503.7 918.0 L506.2 921.1 L508.6 924.1 L511.0 926.9 L513.3 929.4 L515.4 931.7 L517.5 933.8 L519.5 935.7 L521.4 937.4 L523.3 938.9 L525.3 940.2 L527.3 941.2 L529.2 942.0 L531.1 942.6 L533.1 943.0 L535.2 943.4 L537.3 943.8 L539.6 944.1 L541.9 944.4 L544.3 944.6 L546.8 944.7 L549.3 944.9 L551.7 945.0 L554.2 945.2 L556.8 945.3 L559.5 945.5 L562.0 945.6 L564.3 945.6 L566.2 945.5 L567.7 945.3 L568.8 945.1 L569.7 944.8 L570.4 944.5 L571.1 944.0 L572.0 943.4 L573.0 942.7 L573.9 941.8 L574.9 940.9 L575.8 939.8 L576.7 938.7 L577.7 937.6 L578.7 936.4 L579.6 935.2 L580.6 934.0 L581.6 932.6 L582.5 931.2 L583.5 929.6 L584.5 928.0 L585.4 926.3 L586.4 924.6 L587.3 922.6 L588.2 920.5 L589.2 918.1 L590.2 915.4 L591.1 912.5 L592.1 909.3 L593.1 905.9 L594.0 902.4 L595.0 898.8 L596.0 895.0 L596.9 891.0 L597.9 886.8 L598.9 882.5 L599.8 878.1 L600.8 873.8 L601.8 869.4 L602.7 865.0 L603.6 860.5 L604.6 855.9 L605.5 851.4 L606.5 846.9 L607.5 842.4 L608.4 837.9 L609.4 833.5 L610.4 829.0 L611.3 824.5 L612.3 820.0 L613.3 815.5 L614.2 810.8 L615.2 806.2 L616.2 801.6 L617.1 797.3 L618.1 793.1 L619.1 789.2 L620.0 785.5 L621.0 782.0 L621.9 778.6 L622.8 775.3 L623.8 771.9 L624.8 768.5 L625.7 765.1 L626.7 761.8 L627.7 758.6 L628.6 755.5 L629.6 752.7 L630.5 750.1 L631.5 747.7 L632.4 745.4 L633.3 743.2 L634.3 741.2 L635.4 739.2 L636.6 737.3 L637.8 735.5 L639.0 733.9 L640.3 732.3 L641.7 730.7 L643.1 729.0 L644.6 727.3 L646.1 725.6 L647.6 723.9 L649.2 722.2 L650.9 720.6 L652.7 719.0 L654.5 717.4 L656.4 715.7 L658.4 714.1 L660.4 712.6 L662.6 711.3 L664.8 710.2 L666.9 709.4 L668.7 708.9 L670.7 708.5 L673.0 708.3 L676.0 708.1 L680.0 707.9 L685.2 707.8 L691.5 707.7 L698.5 707.8 L705.7 707.8 L713.0 707.9 L720.0 707.9 L726.6 707.9 L733.3 707.9 L739.9 707.9 L746.5 707.9 L753.2 707.9 L760.0 707.9 L767.4 707.9 L775.4 707.9 L783.5 707.9 L791.0 707.9 L797.4 707.9 L802.0 707.9" fill="none" stroke="#000" stroke-width="5.2" stroke-linejoin="round" stroke-linecap="round"/>
<path d="M168.8 1159.6 L168.8 1159.6 L169.7 1159.6 L170.6 1159.6 L171.5 1159.6 L172.4 1159.6 L173.2 1159.5 L174.1 1159.5 L175.0 1159.5 L175.9 1159.5 L176.8 1159.4 L177.7 1159.4 L178.6 1159.3 L179.4 1159.2 L180.3 1159.1 L181.2 1159.0 L182.1 1158.9 L183.0 1158.7 L183.9 1158.5 L184.8 1158.2 L185.7 1157.9 L186.6 1157.5 L187.4 1157.0 L188.3 1156.5 L189.2 1155.9 L190.1 1155.1 L191.0 1154.2 L191.9 1153.2 L192.8 1152.0 L193.7 1150.7 L194.5 1149.2 L195.4 1147.4 L196.3 1145.5 L197.2 1143.3 L198.1 1140.8 L199.0 1138.1 L199.9 1135.0 L200.8 1131.7 L201.6 1128.1 L202.5 1124.2 L203.4 1119.9 L204.3 1115.3 L205.2 1110.4 L206.1 1105.2 L207.0 1099.7 L207.8 1093.9 L208.7 1087.9 L209.6 1081.6 L210.5 1075.0 L211.4 1068.3 L212.3 1061.4 L213.2 1054.4 L214.1 1047.3 L214.9 1040.1 L215.8 1033.0 L216.7 1025.8 L217.6 1018.7 L218.5 1011.7 L219.4 1004.9 L220.3 998.2 L221.2 991.7 L222.1 985.5 L222.9 979.5 L223.8 973.7 L224.7 968.3 L225.6 963.2 L226.5 958.3 L227.4 953.8 L228.3 949.6 L229.2 945.8 L230.0 942.2 L230.9 939.0 L231.8 936.1 L232.7 933.4 L233.6 931.0 L234.5 928.9 L235.4 927.0 L236.2 925.4 L237.1 923.9 L238.0 922.7 L238.9 921.6 L239.8 920.7 L240.7 919.9 L241.6 919.3 L242.5 918.8 L243.3 918.4 L244.2 918.1 L245.1 917.8 L247.1 915.0 L249.6 909.3 L249.9 909.2 L251.1 908.7 L252.6 908.1 L254.6 907.3 L257.2 906.3 L260.4 905.1 L263.8 903.8 L267.3 902.5 L270.7 901.2 L273.8 900.1 L276.5 899.1 L279.0 898.3 L281.4 897.5 L283.6 896.7 L285.9 896.0 L288.3 895.3 L290.7 894.7 L293.2 894.1 L295.7 893.6 L298.1 893.1 L300.5 892.5 L302.7 892.0 L304.8 891.5 L306.7 891.0 L308.5 890.6 L310.4 890.0 L312.3 889.4 L314.4 888.5 L316.6 887.4 L319.0 886.0 L321.4 884.5 L323.9 883.0 L326.4 881.5 L328.8 880.1 L331.2 878.8 L333.6 877.6 L336.1 876.4 L338.5 875.2 L340.9 874.0 L343.3 872.9 L345.7 871.8 L348.1 870.8 L350.5 869.8 L352.9 868.8 L355.3 867.8 L357.7 866.9 L360.2 865.9 L362.7 865.0 L365.2 864.0 L367.7 863.1 L370.0 862.3 L372.1 861.6 L373.9 861.1 L375.5 860.6 L376.9 860.3 L378.3 860.1 L379.9 859.9 L381.7 859.7 L383.9 859.6 L386.4 859.6 L388.9 859.6 L391.5 859.6 L394.0 859.7 L396.2 859.7 L398.1 859.7 L403.0 861.5 L404.1 862.3 L405.7 863.5 L407.5 864.8 L409.3 866.4 L411.0 868.0 L412.5 869.7 L413.9 871.6 L415.2 873.6 L416.6 875.8 L418.0 878.0 L419.4 880.4 L420.8 882.9 L422.3 885.6 L423.7 888.3 L425.0 891.0 L426.3 893.7 L427.5 896.4 L428.7 899.2 L429.8 902.1 L431.0 905.0 L432.1 908.1 L433.3 911.2 L434.4 914.4 L435.5 917.7 L436.5 921.0 L437.5 924.3 L438.4 927.7 L439.3 931.2 L440.1 934.6 L441.0 938.0 L441.8 941.4 L442.7 944.7 L443.5 948.1 L444.2 951.5 L445.0 955.0 L445.8 958.7 L446.5 962.5 L447.2 966.4 L447.9 970.3 L448.6 974.0 L449.2 977.5 L449.7 980.7 L450.2 984.0 L450.7 987.4 L451.4 991.2 L452.3 995.4 L453.3 999.9 L454.4 1004.6 L455.4 1009.4 L456.5 1014.0 L457.5 1018.5 L458.4 1023.0 L459.4 1027.4 L460.4 1032.0 L461.5 1036.7 L462.7 1041.6 L463.9 1046.6 L465.2 1051.8 L466.5 1056.9 L467.8 1062.0 L469.1 1067.1 L470.4 1072.3 L471.6 1077.5 L472.9 1082.5 L474.2 1087.2 L475.5 1091.5 L476.7 1095.6 L478.0 1099.5 L479.2 1103.2 L480.5 1107.0 L481.7 1110.8 L483.0 1114.5 L484.2 1118.1 L485.5 1121.6 L486.8 1125.0 L488.2 1128.3 L489.6 1131.4 L491.0 1134.5 L492.5 1137.3 L494.0 1140.0 L495.5 1142.4 L497.1 1144.7 L498.7 1146.7 L500.3 1148.6 L501.9 1150.3 L503.5 1151.8 L505.0 1153.0 L506.6 1154.1 L508.3 1155.1 L510.0 1156.0 L512.0 1156.9 L514.3 1157.8 L516.6 1158.5 L518.6 1159.1 L520.0 1159.6 L520.0 1159.6Z" fill="rgba(255,0,0,0.5)" />
<path d="M232.0 1159.6 L232.8 1159.5 L233.9 1159.3 L235.2 1159.0 L236.6 1158.7 L238.0 1158.3 L239.4 1157.9 L240.9 1157.5 L242.6 1157.0 L244.3 1156.3 L246.2 1155.3 L248.4 1153.9 L250.8 1152.2 L253.4 1150.3 L255.8 1148.2 L258.0 1146.0 L259.9 1143.6 L261.7 1141.1 L263.3 1138.4 L264.9 1135.6 L266.4 1132.6 L267.8 1129.7 L269.1 1126.8 L270.3 1123.7 L271.6 1120.2 L273.0 1116.0 L274.5 1111.4 L276.1 1106.4 L277.7 1100.9 L279.5 1094.5 L281.5 1087.2 L283.8 1078.5 L286.3 1068.6 L288.9 1057.9 L291.6 1047.1 L294.2 1036.7 L296.7 1026.6 L299.2 1016.5 L301.8 1006.4 L304.3 996.3 L306.8 986.2 L309.4 975.6 L312.1 964.6 L314.8 953.8 L317.3 944.0 L319.4 935.7 L321.1 929.4 L322.5 924.7 L323.6 920.9 L324.8 917.5 L326.0 914.0 L327.4 910.3 L328.8 906.9 L330.2 903.7 L331.6 900.7 L333.0 898.0 L334.4 895.5 L335.8 893.3 L337.2 891.3 L338.6 889.5 L340.0 888.0 L341.5 886.8 L343.0 885.8 L344.5 885.0 L345.8 884.4 L346.7 884.0 L346.7 883.9 L347.5 884.0 L348.4 884.4 L349.3 884.9 L350.2 885.7 L351.1 886.7 L352.0 888.0 L352.9 889.4 L353.8 891.0 L354.6 892.9 L355.5 895.0 L356.4 897.2 L357.3 899.7 L358.2 902.3 L359.1 905.1 L360.0 908.1 L360.9 911.3 L361.7 914.6 L362.6 918.1 L363.5 921.7 L364.4 925.5 L365.3 929.3 L366.2 933.4 L367.1 937.5 L368.0 941.7 L368.8 946.0 L369.7 950.4 L370.6 954.9 L371.5 959.4 L372.4 964.0 L373.3 968.7 L374.2 973.4 L375.1 978.1 L375.9 982.9 L376.8 987.6 L377.7 992.4 L378.6 997.2 L379.5 1001.9 L380.4 1006.7 L381.3 1011.4 L382.2 1016.1 L383.0 1020.8 L383.9 1025.4 L384.8 1030.0 L385.7 1034.5 L386.6 1039.0 L387.5 1043.4 L388.4 1047.7 L389.3 1052.0 L390.1 1056.1 L391.0 1060.2 L391.9 1064.2 L392.8 1068.2 L393.7 1072.0 L394.6 1075.8 L395.5 1079.4 L396.4 1083.0 L397.2 1086.4 L398.1 1089.8 L399.0 1093.0 L399.9 1096.2 L400.8 1099.2 L401.7 1102.2 L402.6 1105.0 L403.5 1107.8 L404.3 1110.5 L405.2 1113.0 L406.1 1115.5 L407.0 1117.8 L407.9 1120.1 L408.8 1122.3 L409.7 1124.4 L410.6 1126.4 L411.4 1128.3 L412.3 1130.1 L413.2 1131.8 L414.1 1133.5 L415.0 1135.1 L415.9 1136.6 L416.8 1138.0 L417.7 1139.4 L418.5 1140.7 L419.4 1141.9 L420.3 1143.0 L421.2 1144.1 L422.1 1145.2 L423.0 1146.1 L423.9 1147.0 L424.8 1147.9 L425.6 1148.7 L426.5 1149.5 L427.4 1150.2 L428.3 1150.9 L429.2 1151.5 L430.1 1152.1 L431.0 1152.7 L431.9 1153.2 L432.7 1153.7 L433.6 1154.1 L434.5 1154.6 L435.4 1154.9 L436.3 1155.3 L437.2 1155.7 L438.1 1156.0 L439.0 1156.3 L439.8 1156.5 L440.7 1156.8 L441.6 1157.0 L442.5 1157.2 L443.4 1157.4 L444.3 1157.6 L445.2 1157.8 L446.1 1158.0 L446.9 1158.1 L447.8 1158.2 L448.7 1158.4 L449.6 1158.5 L450.5 1158.6 L451.4 1158.7 L452.3 1158.7 L453.2 1158.8 L453.2 1159.6Z" fill="rgba(255,0,0,0.5)" />
<path d="M332.1 1159.6 L332.1 1158.2 L333.0 1158.0 L333.9 1157.8 L334.8 1157.6 L335.6 1157.4 L336.5 1157.1 L337.4 1156.8 L338.3 1156.5 L339.2 1156.1 L340.1 1155.7 L341.0 1155.3 L341.9 1154.9 L342.8 1154.3 L343.6 1153.8 L344.5 1153.2 L345.4 1152.5 L346.3 1151.8 L347.2 1151.0 L348.1 1150.2 L349.0 1149.3 L349.9 1148.3 L350.7 1147.2 L351.6 1146.1 L352.5 1144.8 L353.4 1143.5 L354.3 1142.1 L355.2 1140.5 L356.1 1138.9 L356.9 1137.1 L357.8 1135.3 L358.7 1133.3 L359.6 1131.2 L360.5 1128.9 L361.4 1126.5 L362.3 1124.0 L363.2 1121.4 L364.1 1118.5 L364.9 1115.6 L365.8 1112.5 L366.7 1109.2 L367.6 1105.8 L368.5 1102.2 L369.4 1098.5 L370.3 1094.6 L371.1 1090.5 L372.0 1086.3 L372.9 1081.9 L373.8 1077.4 L374.7 1072.7 L375.6 1067.9 L376.5 1062.9 L377.4 1057.8 L378.2 1052.6 L379.1 1047.2 L380.0 1041.8 L380.9 1036.2 L381.8 1030.5 L382.7 1024.7 L383.6 1018.9 L384.5 1013.0 L385.4 1007.0 L386.2 1001.0 L387.1 995.0 L388.0 988.9 L388.9 982.9 L389.8 976.9 L390.7 970.9 L391.6 965.0 L392.4 959.2 L393.3 953.4 L394.2 947.8 L395.1 942.3 L396.0 936.9 L396.9 931.7 L397.8 926.7 L398.7 921.9 L399.6 917.3 L400.4 912.9 L401.3 908.7 L402.2 904.9 L403.1 901.3 L404.0 897.9 L404.9 894.9 L405.8 892.2 L406.6 889.8 L407.5 887.7 L408.4 886.0 L409.3 884.6 L410.2 883.6 L411.1 882.9 L412.0 882.6 L412.9 882.6 L413.8 882.8 L414.6 883.0 L415.5 883.5 L416.4 884.0 L417.3 884.7 L418.2 885.5 L419.1 886.5 L420.0 887.6 L420.8 888.8 L421.7 890.1 L422.6 891.6 L423.5 893.1 L424.4 894.8 L425.3 896.7 L426.2 898.6 L427.1 900.7 L427.9 902.8 L428.8 905.1 L429.7 907.4 L430.6 909.9 L431.5 912.5 L432.4 915.1 L433.3 917.9 L434.2 920.7 L435.1 923.6 L435.1 923.6 L435.9 926.3 L437.2 930.1 L438.6 934.6 L440.1 939.1 L441.3 943.3 L442.3 947.2 L443.2 951.0 L444.1 954.8 L444.8 958.5 L445.6 962.0 L446.3 965.2 L447.0 968.3 L447.6 971.2 L448.2 974.1 L448.8 977.0 L449.3 979.8 L449.8 982.3 L450.2 984.9 L450.7 987.8 L451.4 991.2 L452.3 995.2 L453.3 999.7 L454.3 1004.5 L455.4 1009.3 L456.5 1014.0 L457.5 1018.5 L458.4 1023.0 L459.4 1027.4 L460.4 1032.0 L461.5 1036.7 L462.7 1041.6 L463.9 1046.6 L465.2 1051.8 L466.5 1056.9 L467.8 1062.0 L469.1 1067.1 L470.4 1072.3 L471.6 1077.5 L472.9 1082.5 L474.2 1087.2 L475.5 1091.5 L476.7 1095.6 L478.0 1099.5 L479.2 1103.2 L480.5 1107.0 L481.7 1110.8 L483.0 1114.5 L484.2 1118.1 L485.5 1121.6 L486.8 1125.0 L488.2 1128.3 L489.6 1131.4 L491.0 1134.5 L492.5 1137.3 L494.0 1140.0 L495.5 1142.4 L497.1 1144.7 L498.7 1146.7 L500.3 1148.6 L501.9 1150.3 L503.5 1151.8 L505.0 1153.0 L506.6 1154.1 L508.3 1155.1 L510.0 1156.0 L512.0 1156.9 L514.3 1157.8 L516.6 1158.5 L518.6 1159.1 L520.0 1159.6 L520.0 1159.6Z" fill="rgba(255,0,0,0.5)" />
<path d="M168.8 1159.6 L169.7 1159.6 L170.6 1159.6 L171.5 1159.6 L172.4 1159.6 L173.2 1159.5 L174.1 1159.5 L175.0 1159.5 L175.9 1159.5 L176.8 1159.4 L177.7 1159.4 L178.6 1159.3 L179.4 1159.2 L180.3 1159.1 L181.2 1159.0 L182.1 1158.9 L183.0 1158.7 L183.9 1158.5 L184.8 1158.2 L185.7 1157.9 L186.6 1157.5 L187.4 1157.0 L188.3 1156.5 L189.2 1155.9 L190.1 1155.1 L191.0 1154.2 L191.9 1153.2 L192.8 1152.0 L193.7 1150.7 L194.5 1149.2 L195.4 1147.4 L196.3 1145.5 L197.2 1143.3 L198.1 1140.8 L199.0 1138.1 L199.9 1135.0 L200.8 1131.7 L201.6 1128.1 L202.5 1124.2 L203.4 1119.9 L204.3 1115.3 L205.2 1110.4 L206.1 1105.2 L207.0 1099.7 L207.8 1093.9 L208.7 1087.9 L209.6 1081.6 L210.5 1075.0 L211.4 1068.3 L212.3 1061.4 L213.2 1054.4 L214.1 1047.3 L214.9 1040.1 L215.8 1033.0 L216.7 1025.8 L217.6 1018.7 L218.5 1011.7 L219.4 1004.9 L220.3 998.2 L221.2 991.7 L222.1 985.5 L222.9 979.5 L223.8 973.7 L224.7 968.3 L225.6 963.2 L226.5 958.3 L227.4 953.8 L228.3 949.6 L229.2 945.8 L230.0 942.2 L230.9 939.0 L231.8 936.1 L232.7 933.4 L233.6 931.0 L234.5 928.9 L235.4 927.0 L236.2 925.4 L237.1 923.9 L238.0 922.7 L238.9 921.6 L239.8 920.7 L240.7 919.9 L241.6 919.3 L242.5 918.8 L243.3 918.4 L244.2 918.1 L245.1 917.8 L246.0 917.7 L246.9 917.6 L247.8 917.6 L248.7 917.7 L249.6 917.8 L250.4 917.9 L251.3 918.1 L252.2 918.4 L253.1 918.7 L254.0 919.1 L254.9 919.5 L255.8 920.0 L256.7 920.5 L257.6 921.0 L258.4 921.7 L259.3 922.3 L260.2 923.1 L261.1 923.9 L262.0 924.8 L262.9 925.7 L263.8 926.7 L264.6 927.8 L265.5 929.0 L266.4 930.2 L267.3 931.6 L268.2 933.0 L269.1 934.5 L270.0 936.1 L270.9 937.8 L271.8 939.6 L272.6 941.6 L273.5 943.6 L274.4 945.7 L275.3 947.9 L276.2 950.3 L277.1 952.7 L278.0 955.3 L278.9 958.0 L279.7 960.8 L280.6 963.7 L281.5 966.6 L282.4 969.8 L283.3 973.0 L284.2 976.3 L285.1 979.7 L285.9 983.2 L286.8 986.8 L287.7 990.4 L288.6 994.2 L289.5 998.0 L290.4 1001.9 L291.3 1005.9 L292.2 1009.9 L293.0 1013.9 L293.9 1018.0 L294.8 1022.2 L295.7 1026.4 L296.6 1030.5 L297.5 1034.7 L298.4 1039.0 L299.3 1043.2 L300.1 1047.3 L301.0 1051.5 L301.9 1055.7 L302.8 1059.8 L303.7 1063.9 L304.6 1067.9 L305.5 1071.9 L306.4 1075.8 L307.2 1079.6 L308.1 1083.4 L309.0 1087.1 L309.9 1090.7 L310.8 1094.2 L311.7 1097.6 L312.6 1100.9 L313.5 1104.2 L314.4 1107.3 L315.2 1110.3 L316.1 1113.2 L317.0 1116.0 L317.9 1118.7 L318.8 1121.3 L319.7 1123.8 L320.6 1126.1 L321.4 1128.4 L322.3 1130.5 L323.2 1132.6 L324.1 1134.5 L325.0 1136.3 L325.9 1138.1 L326.8 1139.7 L327.7 1141.3 L328.6 1142.7 L329.4 1144.1 L330.3 1145.3 L331.2 1146.5 L332.1 1147.6 L333.0 1148.7 L333.9 1149.6 L334.8 1150.5 L335.6 1151.3 L336.5 1152.1 L337.4 1152.8 L338.3 1153.4 L339.2 1154.0 L340.1 1154.6 L341.0 1155.1 L341.9 1155.5 L342.8 1156.0 L343.6 1156.3 L344.5 1156.7 L345.4 1157.0 L346.3 1157.3 L347.2 1157.5 L348.1 1157.8 L349.0 1158.0 L349.9 1158.2 L350.7 1158.3 L351.6 1158.5 L352.5 1158.6 L353.4 1158.7 L354.3 1158.8 L355.2 1158.9 L356.1 1159.0 L356.9 1159.1 L357.8 1159.2 L358.7 1159.2 L359.6 1159.3 L360.5 1159.3 L361.4 1159.3 L362.3 1159.4 L363.2 1159.4 L364.1 1159.4 L364.9 1159.5 L365.8 1159.5 L366.7 1159.5 L367.6 1159.5" fill="none" stroke="#ff0000" stroke-width="2.1" />
<path d="M127.2 933.8 L129.7 933.8 L133.0 933.8 L137.0 933.7 L141.4 933.7 L145.8 933.6 L150.0 933.6 L154.3 933.6 L158.8 933.5 L163.5 933.5 L168.0 933.4 L172.0 933.4 L175.3 933.3 L177.8 933.2 L179.7 933.2 L181.1 933.1 L182.2 933.0 L183.3 932.9 L184.6 932.7 L185.9 932.5 L187.2 932.2 L188.4 932.0 L189.6 931.6 L190.8 931.3 L192.0 931.0 L193.3 930.7 L194.5 930.3 L195.8 930.0 L197.2 929.6 L198.5 929.2 L200.0 928.8 L201.6 928.3 L203.2 927.8 L204.9 927.3 L206.7 926.7 L208.4 926.2 L210.0 925.6 L211.5 925.1 L212.9 924.6 L214.3 924.1 L215.7 923.6 L217.3 922.9 L219.2 922.1 L221.5 921.0 L224.0 919.7 L226.8 918.3 L229.5 916.9 L232.2 915.6 L234.6 914.4 L236.8 913.4 L238.9 912.5 L240.8 911.7 L242.7 911.0 L244.5 910.3 L246.2 909.6 L247.7 909.0 L248.8 908.5 L249.9 908.0 L251.1 907.5 L252.6 906.9 L254.6 906.1 L257.2 905.1 L260.4 903.9 L263.8 902.6 L267.3 901.3 L270.7 900.0 L273.8 898.9 L276.5 897.9 L279.0 897.1 L281.4 896.3 L283.6 895.5 L285.9 894.8 L288.3 894.1 L290.7 893.5 L293.2 892.9 L295.7 892.4 L298.1 891.9 L300.5 891.3 L302.7 890.8 L304.8 890.3 L306.7 889.8 L308.5 889.4 L310.4 888.8 L312.3 888.2 L314.4 887.3 L316.6 886.2 L319.0 884.8 L321.4 883.3 L323.9 881.8 L326.4 880.3 L328.8 878.9 L331.2 877.6 L333.6 876.4 L336.1 875.1 L338.5 874.0 L340.9 872.8 L343.3 871.7 L345.7 870.6 L348.1 869.6 L350.5 868.6 L352.9 867.6 L355.3 866.6 L357.7 865.7 L360.2 864.7 L362.7 863.8 L365.2 862.8 L367.7 861.9 L370.0 861.1 L372.1 860.4 L373.9 859.9 L375.5 859.4 L376.9 859.1 L378.3 858.9 L379.9 858.7 L381.7 858.5 L383.9 858.4 L386.4 858.4 L388.9 858.4 L391.5 858.4 L394.0 858.5 L396.2 858.5 L398.1 858.5 L399.8 858.6 L401.3 858.6 L402.8 858.6 L404.3 858.6 L405.8 858.5 L407.3 858.3 L408.8 858.1 L410.3 857.9 L411.8 857.5 L413.5 857.1 L415.4 856.5 L417.6 855.7 L420.0 854.8 L422.6 853.7 L425.2 852.6 L427.6 851.6 L429.8 850.8 L431.7 850.2 L433.4 849.7 L435.1 849.2 L436.6 848.9 L438.0 848.6 L439.4 848.4 L440.7 848.2 L442.0 848.1 L443.1 848.1 L444.3 848.1 L445.4 848.2 L446.6 848.4 L447.8 848.6 L448.9 848.8 L450.0 849.1 L451.2 849.5 L452.5 850.1 L453.8 850.8 L455.3 851.7 L456.9 852.8 L458.5 854.0 L460.2 855.4 L461.9 856.9 L463.5 858.5 L465.1 860.2 L466.6 862.0 L468.2 863.9 L469.8 865.9 L471.4 868.1 L473.1 870.5 L474.8 873.1 L476.6 875.9 L478.5 878.8 L480.3 881.9 L482.3 885.2 L484.4 888.5 L486.6 892.1 L489.0 895.9 L491.4 899.9 L493.9 903.9 L496.4 907.7 L498.8 911.3 L501.2 914.7 L503.7 918.0 L506.2 921.1 L508.6 924.1 L511.0 926.9 L513.3 929.4 L515.4 931.7 L517.5 933.8 L519.5 935.7 L521.4 937.4 L523.3 938.9 L525.3 940.2 L527.3 941.2 L529.2 942.0 L531.1 942.6 L533.1 943.0 L535.2 943.4 L537.3 943.8 L539.6 944.1 L541.9 944.4 L544.3 944.6 L546.8 944.7 L549.3 944.9 L551.7 945.0 L554.2 945.2 L556.8 945.3 L559.5 945.5 L562.0 945.6 L564.3 945.6 L566.2 945.5 L567.7 945.3 L568.8 945.1 L569.7 944.8 L570.4 944.5 L571.1 944.0 L572.0 943.4 L573.0 942.7 L573.9 941.8 L574.9 940.9 L575.8 939.8 L576.7 938.7 L577.7 937.6 L578.7 936.4 L579.6 935.2 L580.6 934.0 L581.6 932.6 L582.5 931.2 L583.5 929.6 L584.5 928.0 L585.4 926.3 L586.4 924.6 L587.3 922.6 L588.2 920.5 L589.2 918.1 L590.2 915.4 L591.1 912.5 L592.1 909.3 L593.1 905.9 L594.0 902.4 L595.0 898.8 L596.0 895.0 L596.9 891.0 L597.9 886.8 L598.9 882.5 L599.8 878.1 L600.8 873.8 L601.8 869.4 L602.7 865.0 L603.6 860.5 L604.6 855.9 L605.5 851.4 L606.5 846.9 L607.5 842.4 L608.4 837.9 L609.4 833.5 L610.4 829.0 L611.3 824.5 L612.3 820.0 L613.3 815.5 L614.2 810.8 L615.2 806.2 L616.2 801.6 L617.1 797.3 L618.1 793.1 L619.1 789.2 L620.0 785.5 L621.0 782.0 L621.9 778.6 L622.8 775.3 L623.8 771.9 L624.8 768.5 L625.7 765.1 L626.7 761.8 L627.7 758.6 L628.6 755.5 L629.6 752.7 L630.5 750.1 L631.5 747.7 L632.4 745.4 L633.3 743.2 L634.3 741.2 L635.4 739.2 L636.6 737.3 L637.8 735.5 L639.0 733.9 L640.3 732.3 L641.7 730.7 L643.1 729.0 L644.6 727.3 L646.1 725.6 L647.6 723.9 L649.2 722.2 L650.9 720.6 L652.7 719.0 L654.5 717.4 L656.4 715.7 L658.4 714.1 L660.4 712.6 L662.6 711.3 L664.8 710.2 L666.9 709.4 L668.7 708.9 L670.7 708.5 L673.0 708.3 L676.0 708.1 L680.0 707.9 L685.2 707.8 L691.5 707.7 L698.5 707.8 L705.7 707.8 L713.0 707.9 L720.0 707.9 L726.6 707.9 L733.3 707.9 L739.9 707.9 L746.5 707.9 L753.2 707.9 L760.0 707.9 L767.4 707.9 L775.4 707.9 L783.5 707.9 L791.0 707.9 L797.4 707.9 L802.0 707.9" fill="none" stroke="#ff0000" stroke-width="2.4" stroke-linejoin="round" stroke-linecap="round"/>
<path d="M126.2 654.5 H801.0 V1159.6 H126.2 Z" fill="none" stroke="#000" stroke-width="2.3" stroke-linejoin="miter"/>
<path d="M161.7 1159.6 v10.2 M161.7 654.5 v-10.2" stroke="#000" stroke-width="2.2" stroke-linecap="round"/>
<text transform="translate(158.2 1195.9) scale(1.000 1)" font-size="28.5" text-anchor="middle" font-family="Liberation Sans, sans-serif">-80</text>
<path d="M232.7 1159.6 v10.2 M232.7 654.5 v-10.2" stroke="#000" stroke-width="2.2" stroke-linecap="round"/>
<text transform="translate(228.6 1195.9) scale(1.000 1)" font-size="28.5" text-anchor="middle" font-family="Liberation Sans, sans-serif">-60</text>
<path d="M303.7 1159.6 v10.2 M303.7 654.5 v-10.2" stroke="#000" stroke-width="2.2" stroke-linecap="round"/>
<text transform="translate(299.0 1195.9) scale(1.000 1)" font-size="28.5" text-anchor="middle" font-family="Liberation Sans, sans-serif">-40</text>
<path d="M374.7 1159.6 v10.2 M374.7 654.5 v-10.2" stroke="#000" stroke-width="2.2" stroke-linecap="round"/>
<text transform="translate(369.4 1195.9) scale(1.000 1)" font-size="28.5" text-anchor="middle" font-family="Liberation Sans, sans-serif">-20</text>
<path d="M445.7 1159.6 v10.2 M445.7 654.5 v-10.2" stroke="#000" stroke-width="2.2" stroke-linecap="round"/>
<text transform="translate(445.0 1195.9) scale(1.000 1)" font-size="28.5" text-anchor="middle" font-family="Liberation Sans, sans-serif">0</text>
<path d="M516.7 1159.6 v10.2 M516.7 654.5 v-10.2" stroke="#000" stroke-width="2.2" stroke-linecap="round"/>
<text transform="translate(515.4 1195.9) scale(1.000 1)" font-size="28.5" text-anchor="middle" font-family="Liberation Sans, sans-serif">20</text>
<path d="M587.7 1159.6 v10.2 M587.7 654.5 v-10.2" stroke="#000" stroke-width="2.2" stroke-linecap="round"/>
<text transform="translate(585.8 1195.9) scale(1.000 1)" font-size="28.5" text-anchor="middle" font-family="Liberation Sans, sans-serif">40</text>
<path d="M658.7 1159.6 v10.2 M658.7 654.5 v-10.2" stroke="#000" stroke-width="2.2" stroke-linecap="round"/>
<text transform="translate(656.2 1195.9) scale(1.000 1)" font-size="28.5" text-anchor="middle" font-family="Liberation Sans, sans-serif">60</text>
<path d="M729.7 1159.6 v10.2 M729.7 654.5 v-10.2" stroke="#000" stroke-width="2.2" stroke-linecap="round"/>
<text transform="translate(726.6 1195.9) scale(1.000 1)" font-size="28.5" text-anchor="middle" font-family="Liberation Sans, sans-serif">80</text>
<path d="M800.7 1159.6 v10.2 M800.7 654.5 v-10.2" stroke="#000" stroke-width="2.2" stroke-linecap="round"/>
<text transform="translate(798.5 1195.9) scale(1.000 1)" font-size="28.5" text-anchor="middle" font-family="Liberation Sans, sans-serif">100</text>
<path d="M126.2 1159.6 v5.2 M126.2 654.5 v-5.2" stroke="#000" stroke-width="2.2" stroke-linecap="round"/>
<path d="M197.2 1159.6 v5.2 M197.2 654.5 v-5.2" stroke="#000" stroke-width="2.2" stroke-linecap="round"/>
<path d="M268.2 1159.6 v5.2 M268.2 654.5 v-5.2" stroke="#000" stroke-width="2.2" stroke-linecap="round"/>
<path d="M339.2 1159.6 v5.2 M339.2 654.5 v-5.2" stroke="#000" stroke-width="2.2" stroke-linecap="round"/>
<path d="M410.2 1159.6 v5.2 M410.2 654.5 v-5.2" stroke="#000" stroke-width="2.2" stroke-linecap="round"/>
<path d="M481.2 1159.6 v5.2 M481.2 654.5 v-5.2" stroke="#000" stroke-width="2.2" stroke-linecap="round"/>
<path d="M552.2 1159.6 v5.2 M552.2 654.5 v-5.2" stroke="#000" stroke-width="2.2" stroke-linecap="round"/>
<path d="M623.2 1159.6 v5.2 M623.2 654.5 v-5.2" stroke="#000" stroke-width="2.2" stroke-linecap="round"/>
<path d="M694.2 1159.6 v5.2 M694.2 654.5 v-5.2" stroke="#000" stroke-width="2.2" stroke-linecap="round"/>
<path d="M765.2 1159.6 v5.2 M765.2 654.5 v-5.2" stroke="#000" stroke-width="2.2" stroke-linecap="round"/>
<path d="M126.2 1159.6 h-10.3" stroke="#000" stroke-width="2.2" stroke-linecap="round"/>
<text transform="translate(112.4 1168.8) scale(0.945 1)" font-size="28.5" text-anchor="end" font-family="Liberation Sans, sans-serif">0.0</text>
<path d="M126.2 1092.2 h-10.3" stroke="#000" stroke-width="2.2" stroke-linecap="round"/>
<text transform="translate(112.4 1101.9) scale(0.945 1)" font-size="28.5" text-anchor="end" font-family="Liberation Sans, sans-serif">0.1</text>
<path d="M126.2 1024.8 h-10.3" stroke="#000" stroke-width="2.2" stroke-linecap="round"/>
<text transform="translate(112.4 1035.1) scale(0.945 1)" font-size="28.5" text-anchor="end" font-family="Liberation Sans, sans-serif">0.2</text>
<path d="M126.2 957.4 h-10.3" stroke="#000" stroke-width="2.2" stroke-linecap="round"/>
<text transform="translate(112.4 968.2) scale(0.945 1)" font-size="28.5" text-anchor="end" font-family="Liberation Sans, sans-serif">0.3</text>
<path d="M126.2 890.0 h-10.3" stroke="#000" stroke-width="2.2" stroke-linecap="round"/>
<text transform="translate(112.4 901.4) scale(0.945 1)" font-size="28.5" text-anchor="end" font-family="Liberation Sans, sans-serif">0.4</text>
<path d="M126.2 822.6 h-10.3" stroke="#000" stroke-width="2.2" stroke-linecap="round"/>
<text transform="translate(112.4 834.5) scale(0.945 1)" font-size="28.5" text-anchor="end" font-family="Liberation Sans, sans-serif">0.5</text>
<path d="M126.2 755.2 h-10.3" stroke="#000" stroke-width="2.2" stroke-linecap="round"/>
<text transform="translate(112.4 767.6) scale(0.945 1)" font-size="28.5" text-anchor="end" font-family="Liberation Sans, sans-serif">0.6</text>
<path d="M126.2 687.8 h-10.3" stroke="#000" stroke-width="2.2" stroke-linecap="round"/>
<text transform="translate(112.4 700.8) scale(0.945 1)" font-size="28.5" text-anchor="end" font-family="Liberation Sans, sans-serif">0.7</text>
<path d="M126.2 1125.9 h-5.2" stroke="#000" stroke-width="2.2" stroke-linecap="round"/>
<path d="M126.2 1058.5 h-5.2" stroke="#000" stroke-width="2.2" stroke-linecap="round"/>
<path d="M126.2 991.1 h-5.2" stroke="#000" stroke-width="2.2" stroke-linecap="round"/>
<path d="M126.2 923.7 h-5.2" stroke="#000" stroke-width="2.2" stroke-linecap="round"/>
<path d="M126.2 856.3 h-5.2" stroke="#000" stroke-width="2.2" stroke-linecap="round"/>
<path d="M126.2 788.9 h-5.2" stroke="#000" stroke-width="2.2" stroke-linecap="round"/>
<path d="M126.2 721.5 h-5.2" stroke="#000" stroke-width="2.2" stroke-linecap="round"/>
<path d="M126.2 654.1 h-5.2" stroke="#000" stroke-width="2.2" stroke-linecap="round"/>
<path d="M127.4 1159.6 H799.8" stroke="rgba(255,20,0,0.32)" stroke-width="2.3" fill="none"/>
<text x="22.7" y="676.4" font-size="30" textLength="38.6" lengthAdjust="spacingAndGlyphs" font-family="Liberation Sans, sans-serif">(b)</text>
<text x="152.8" y="699" font-size="29.5" font-family="Liberation Sans, sans-serif">50 mol % POPS</text>
<text x="136" y="1045.3" font-size="29.3" font-family="Liberation Sans, sans-serif">H<tspan dy="5" font-size="22">2</tspan><tspan dy="-5">O</tspan></text>
<text x="279" y="1048.8" font-size="29" font-family="Liberation Sans, sans-serif">Anx A2t</text>
<text x="684.5" y="960.8" font-size="29.2" font-family="Liberation Sans, sans-serif">SiO<tspan dy="5" dx="0.7" font-size="24.5">2</tspan></text>
<text x="456.2" y="1231.3" font-size="33.5" text-anchor="middle" font-family="Liberation Sans, sans-serif">z [Å]</text>
<text transform="translate(57.0 933.5) rotate(-90)" font-size="33.6" text-anchor="middle" font-family="Liberation Sans, sans-serif">electron density [e<tspan dy="-16.1" dx="1.5" font-size="25" stroke="#000" stroke-width="1.6">-</tspan><tspan dy="16.1" dx="1.5">/Å</tspan><tspan dy="-13.6" font-size="25.2">3</tspan><tspan dy="13.6">]</tspan></text>
</svg>
</body></html>
